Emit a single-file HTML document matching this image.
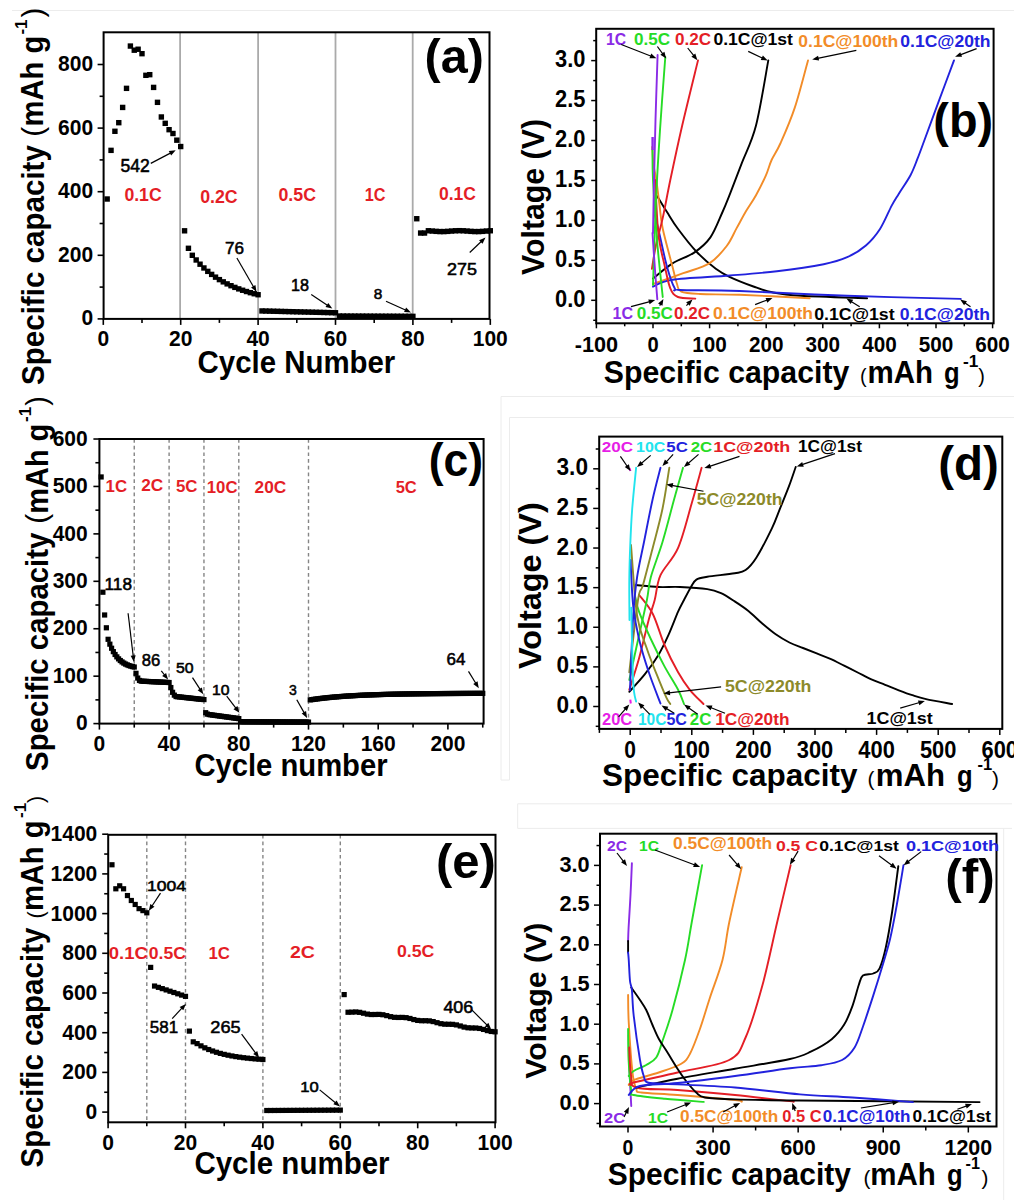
<!DOCTYPE html>
<html><head><meta charset="utf-8"><style>
html,body{margin:0;padding:0;background:#fff;overflow:hidden;}
svg{display:block;}
text{font-family:"Liberation Sans",sans-serif;}
</style></head><body>
<svg width="1024" height="1200" viewBox="0 0 1024 1200">
<defs><clipPath id="clipR"><rect x="0" y="0" width="1014" height="1200"/></clipPath></defs>
<rect width="1024" height="1200" fill="#fff"/>
<line x1="12.00" y1="10.50" x2="1014.00" y2="10.50" stroke="#ececec" stroke-width="1" />
<line x1="501.00" y1="396.50" x2="1014.00" y2="396.50" stroke="#ececec" stroke-width="1" />
<line x1="501.00" y1="396.50" x2="501.00" y2="780.00" stroke="#ececec" stroke-width="1" />
<line x1="509.50" y1="417.50" x2="1014.00" y2="417.50" stroke="#ececec" stroke-width="1" />
<line x1="509.50" y1="417.50" x2="509.50" y2="780.00" stroke="#ececec" stroke-width="1" />
<line x1="501.00" y1="780.00" x2="509.50" y2="780.00" stroke="#ececec" stroke-width="1" />
<line x1="517.70" y1="803.80" x2="1012.00" y2="803.80" stroke="#ececec" stroke-width="1" />
<line x1="517.70" y1="803.80" x2="517.70" y2="828.40" stroke="#ececec" stroke-width="1" />
<line x1="517.70" y1="828.40" x2="1012.00" y2="828.40" stroke="#ececec" stroke-width="1" />
<line x1="1003.70" y1="828.40" x2="1003.70" y2="1200.00" stroke="#ececec" stroke-width="1" />
<line x1="180.10" y1="32.30" x2="180.10" y2="318.90" stroke="#aaa" stroke-width="1.8" />
<line x1="258.10" y1="32.30" x2="258.10" y2="318.90" stroke="#aaa" stroke-width="1.8" />
<line x1="335.50" y1="32.30" x2="335.50" y2="318.90" stroke="#aaa" stroke-width="1.8" />
<line x1="412.70" y1="32.30" x2="412.70" y2="318.90" stroke="#aaa" stroke-width="1.8" />
<line x1="97.60" y1="318.90" x2="103.60" y2="318.90" stroke="#000" stroke-width="1.6" />
<line x1="99.60" y1="287.10" x2="103.60" y2="287.10" stroke="#000" stroke-width="1.6" />
<line x1="97.60" y1="255.30" x2="103.60" y2="255.30" stroke="#000" stroke-width="1.6" />
<line x1="99.60" y1="223.50" x2="103.60" y2="223.50" stroke="#000" stroke-width="1.6" />
<line x1="97.60" y1="191.70" x2="103.60" y2="191.70" stroke="#000" stroke-width="1.6" />
<line x1="99.60" y1="159.90" x2="103.60" y2="159.90" stroke="#000" stroke-width="1.6" />
<line x1="97.60" y1="128.10" x2="103.60" y2="128.10" stroke="#000" stroke-width="1.6" />
<line x1="99.60" y1="96.30" x2="103.60" y2="96.30" stroke="#000" stroke-width="1.6" />
<line x1="97.60" y1="64.50" x2="103.60" y2="64.50" stroke="#000" stroke-width="1.6" />
<line x1="103.30" y1="318.90" x2="103.30" y2="324.90" stroke="#000" stroke-width="1.6" />
<line x1="142.00" y1="318.90" x2="142.00" y2="322.90" stroke="#000" stroke-width="1.6" />
<line x1="180.70" y1="318.90" x2="180.70" y2="324.90" stroke="#000" stroke-width="1.6" />
<line x1="219.40" y1="318.90" x2="219.40" y2="322.90" stroke="#000" stroke-width="1.6" />
<line x1="258.10" y1="318.90" x2="258.10" y2="324.90" stroke="#000" stroke-width="1.6" />
<line x1="296.80" y1="318.90" x2="296.80" y2="322.90" stroke="#000" stroke-width="1.6" />
<line x1="335.50" y1="318.90" x2="335.50" y2="324.90" stroke="#000" stroke-width="1.6" />
<line x1="374.20" y1="318.90" x2="374.20" y2="322.90" stroke="#000" stroke-width="1.6" />
<line x1="412.90" y1="318.90" x2="412.90" y2="324.90" stroke="#000" stroke-width="1.6" />
<line x1="451.60" y1="318.90" x2="451.60" y2="322.90" stroke="#000" stroke-width="1.6" />
<line x1="490.30" y1="318.90" x2="490.30" y2="324.90" stroke="#000" stroke-width="1.6" />
<rect x="104.47" y="196.31" width="5.40" height="5.40" fill="#000" />
<rect x="108.34" y="147.66" width="5.40" height="5.40" fill="#000" />
<rect x="112.21" y="128.58" width="5.40" height="5.40" fill="#000" />
<rect x="116.08" y="119.99" width="5.40" height="5.40" fill="#000" />
<rect x="119.95" y="104.73" width="5.40" height="5.40" fill="#000" />
<rect x="123.82" y="85.65" width="5.40" height="5.40" fill="#000" />
<rect x="127.69" y="43.36" width="5.40" height="5.40" fill="#000" />
<rect x="131.56" y="47.49" width="5.40" height="5.40" fill="#000" />
<rect x="135.43" y="46.54" width="5.40" height="5.40" fill="#000" />
<rect x="139.30" y="50.99" width="5.40" height="5.40" fill="#000" />
<rect x="143.17" y="72.61" width="5.40" height="5.40" fill="#000" />
<rect x="147.04" y="71.98" width="5.40" height="5.40" fill="#000" />
<rect x="150.91" y="84.70" width="5.40" height="5.40" fill="#000" />
<rect x="154.78" y="99.64" width="5.40" height="5.40" fill="#000" />
<rect x="158.65" y="114.27" width="5.40" height="5.40" fill="#000" />
<rect x="162.52" y="120.63" width="5.40" height="5.40" fill="#000" />
<rect x="166.39" y="126.99" width="5.40" height="5.40" fill="#000" />
<rect x="170.26" y="130.81" width="5.40" height="5.40" fill="#000" />
<rect x="174.13" y="137.48" width="5.40" height="5.40" fill="#000" />
<rect x="178.00" y="143.84" width="5.40" height="5.40" fill="#000" />
<rect x="181.87" y="228.11" width="5.40" height="5.40" fill="#000" />
<rect x="185.74" y="245.60" width="5.40" height="5.40" fill="#000" />
<rect x="189.61" y="252.60" width="5.40" height="5.40" fill="#000" />
<rect x="193.48" y="257.29" width="5.40" height="5.40" fill="#000" />
<rect x="197.35" y="261.50" width="5.40" height="5.40" fill="#000" />
<rect x="201.22" y="265.27" width="5.40" height="5.40" fill="#000" />
<rect x="205.09" y="268.66" width="5.40" height="5.40" fill="#000" />
<rect x="208.96" y="271.70" width="5.40" height="5.40" fill="#000" />
<rect x="212.83" y="274.45" width="5.40" height="5.40" fill="#000" />
<rect x="216.70" y="276.92" width="5.40" height="5.40" fill="#000" />
<rect x="220.57" y="279.16" width="5.40" height="5.40" fill="#000" />
<rect x="224.44" y="281.18" width="5.40" height="5.40" fill="#000" />
<rect x="228.31" y="283.01" width="5.40" height="5.40" fill="#000" />
<rect x="232.18" y="284.68" width="5.40" height="5.40" fill="#000" />
<rect x="236.05" y="286.19" width="5.40" height="5.40" fill="#000" />
<rect x="239.92" y="287.57" width="5.40" height="5.40" fill="#000" />
<rect x="243.79" y="288.83" width="5.40" height="5.40" fill="#000" />
<rect x="247.66" y="289.99" width="5.40" height="5.40" fill="#000" />
<rect x="251.53" y="291.05" width="5.40" height="5.40" fill="#000" />
<rect x="255.40" y="292.03" width="5.40" height="5.40" fill="#000" />
<rect x="259.27" y="308.25" width="5.40" height="5.40" fill="#000" />
<rect x="263.14" y="308.35" width="5.40" height="5.40" fill="#000" />
<rect x="267.01" y="308.44" width="5.40" height="5.40" fill="#000" />
<rect x="270.88" y="308.54" width="5.40" height="5.40" fill="#000" />
<rect x="274.75" y="308.63" width="5.40" height="5.40" fill="#000" />
<rect x="278.62" y="308.73" width="5.40" height="5.40" fill="#000" />
<rect x="282.49" y="308.82" width="5.40" height="5.40" fill="#000" />
<rect x="286.36" y="308.92" width="5.40" height="5.40" fill="#000" />
<rect x="290.23" y="309.01" width="5.40" height="5.40" fill="#000" />
<rect x="294.10" y="309.11" width="5.40" height="5.40" fill="#000" />
<rect x="297.97" y="309.20" width="5.40" height="5.40" fill="#000" />
<rect x="301.84" y="309.30" width="5.40" height="5.40" fill="#000" />
<rect x="305.71" y="309.39" width="5.40" height="5.40" fill="#000" />
<rect x="309.58" y="309.49" width="5.40" height="5.40" fill="#000" />
<rect x="313.45" y="309.59" width="5.40" height="5.40" fill="#000" />
<rect x="317.32" y="309.68" width="5.40" height="5.40" fill="#000" />
<rect x="321.19" y="309.78" width="5.40" height="5.40" fill="#000" />
<rect x="325.06" y="309.87" width="5.40" height="5.40" fill="#000" />
<rect x="328.93" y="309.97" width="5.40" height="5.40" fill="#000" />
<rect x="332.80" y="310.06" width="5.40" height="5.40" fill="#000" />
<rect x="336.67" y="313.34" width="5.40" height="5.40" fill="#000" />
<rect x="340.54" y="313.35" width="5.40" height="5.40" fill="#000" />
<rect x="344.41" y="313.37" width="5.40" height="5.40" fill="#000" />
<rect x="348.28" y="313.39" width="5.40" height="5.40" fill="#000" />
<rect x="352.15" y="313.40" width="5.40" height="5.40" fill="#000" />
<rect x="356.02" y="313.42" width="5.40" height="5.40" fill="#000" />
<rect x="359.89" y="313.43" width="5.40" height="5.40" fill="#000" />
<rect x="363.76" y="313.45" width="5.40" height="5.40" fill="#000" />
<rect x="367.63" y="313.47" width="5.40" height="5.40" fill="#000" />
<rect x="371.50" y="313.48" width="5.40" height="5.40" fill="#000" />
<rect x="375.37" y="313.50" width="5.40" height="5.40" fill="#000" />
<rect x="379.24" y="313.51" width="5.40" height="5.40" fill="#000" />
<rect x="383.11" y="313.53" width="5.40" height="5.40" fill="#000" />
<rect x="386.98" y="313.54" width="5.40" height="5.40" fill="#000" />
<rect x="390.85" y="313.56" width="5.40" height="5.40" fill="#000" />
<rect x="394.72" y="313.58" width="5.40" height="5.40" fill="#000" />
<rect x="398.59" y="313.59" width="5.40" height="5.40" fill="#000" />
<rect x="402.46" y="313.61" width="5.40" height="5.40" fill="#000" />
<rect x="406.33" y="313.62" width="5.40" height="5.40" fill="#000" />
<rect x="410.20" y="313.64" width="5.40" height="5.40" fill="#000" />
<rect x="414.07" y="216.03" width="5.40" height="5.40" fill="#000" />
<rect x="417.94" y="230.34" width="5.40" height="5.40" fill="#000" />
<rect x="421.81" y="230.34" width="5.40" height="5.40" fill="#000" />
<rect x="425.68" y="228.06" width="5.40" height="5.40" fill="#000" />
<rect x="429.55" y="228.34" width="5.40" height="5.40" fill="#000" />
<rect x="433.42" y="228.66" width="5.40" height="5.40" fill="#000" />
<rect x="437.29" y="228.88" width="5.40" height="5.40" fill="#000" />
<rect x="441.16" y="228.88" width="5.40" height="5.40" fill="#000" />
<rect x="445.03" y="228.67" width="5.40" height="5.40" fill="#000" />
<rect x="448.90" y="228.35" width="5.40" height="5.40" fill="#000" />
<rect x="452.77" y="228.07" width="5.40" height="5.40" fill="#000" />
<rect x="456.64" y="227.96" width="5.40" height="5.40" fill="#000" />
<rect x="460.51" y="228.07" width="5.40" height="5.40" fill="#000" />
<rect x="464.38" y="228.35" width="5.40" height="5.40" fill="#000" />
<rect x="468.25" y="228.67" width="5.40" height="5.40" fill="#000" />
<rect x="472.12" y="228.88" width="5.40" height="5.40" fill="#000" />
<rect x="475.99" y="228.88" width="5.40" height="5.40" fill="#000" />
<rect x="479.86" y="228.67" width="5.40" height="5.40" fill="#000" />
<rect x="483.73" y="228.34" width="5.40" height="5.40" fill="#000" />
<rect x="487.60" y="228.06" width="5.40" height="5.40" fill="#000" />
<rect x="103.60" y="32.30" width="385.90" height="286.60" fill="none" stroke="#000" stroke-width="2"/>
<text x="93.10" y="325.40" font-size="22.47" fill="#000" font-weight="bold" text-anchor="end" textLength="11.68" lengthAdjust="spacingAndGlyphs" >0</text>
<text x="93.10" y="261.80" font-size="22.47" fill="#000" font-weight="bold" text-anchor="end" textLength="35.04" lengthAdjust="spacingAndGlyphs" >200</text>
<text x="93.10" y="198.20" font-size="22.47" fill="#000" font-weight="bold" text-anchor="end" textLength="35.04" lengthAdjust="spacingAndGlyphs" >400</text>
<text x="93.10" y="134.60" font-size="22.47" fill="#000" font-weight="bold" text-anchor="end" textLength="35.04" lengthAdjust="spacingAndGlyphs" >600</text>
<text x="93.10" y="71.00" font-size="22.47" fill="#000" font-weight="bold" text-anchor="end" textLength="35.04" lengthAdjust="spacingAndGlyphs" >800</text>
<text x="103.30" y="345.50" font-size="22.47" fill="#000" font-weight="bold" text-anchor="middle" textLength="11.68" lengthAdjust="spacingAndGlyphs" >0</text>
<text x="180.70" y="345.50" font-size="22.47" fill="#000" font-weight="bold" text-anchor="middle" textLength="23.36" lengthAdjust="spacingAndGlyphs" >20</text>
<text x="258.10" y="345.50" font-size="22.47" fill="#000" font-weight="bold" text-anchor="middle" textLength="23.36" lengthAdjust="spacingAndGlyphs" >40</text>
<text x="335.50" y="345.50" font-size="22.47" fill="#000" font-weight="bold" text-anchor="middle" textLength="23.36" lengthAdjust="spacingAndGlyphs" >60</text>
<text x="412.90" y="345.50" font-size="22.47" fill="#000" font-weight="bold" text-anchor="middle" textLength="23.36" lengthAdjust="spacingAndGlyphs" >80</text>
<text x="490.30" y="345.50" font-size="22.47" fill="#000" font-weight="bold" text-anchor="middle" textLength="35.04" lengthAdjust="spacingAndGlyphs" >100</text>
<text x="197.60" y="373.30" font-size="31.50" fill="#000" font-weight="bold" textLength="197.70" lengthAdjust="spacingAndGlyphs" >Cycle Number</text>
<text x="43.50" y="385.00" font-size="31.50" fill="#000" font-weight="bold" textLength="239.90" lengthAdjust="spacingAndGlyphs" transform="rotate(-90 43.50 385.00)" >Specific capacity</text>
<text x="43.50" y="136.70" font-size="30.00" fill="#000" transform="rotate(-90 43.50 136.70)" >(</text>
<text x="43.50" y="126.40" font-size="30.50" fill="#000" font-weight="bold" textLength="90.60" lengthAdjust="spacingAndGlyphs" transform="rotate(-90 43.50 126.40)" >mAh g</text>
<text x="26.80" y="34.60" font-size="17.00" fill="#000" font-weight="bold" transform="rotate(-90 26.80 34.60)" >-1</text>
<text x="43.30" y="17.50" font-size="29.40" fill="#000" transform="rotate(-90 43.30 17.50)" >)</text>
<text x="424.60" y="72.60" font-size="48.50" fill="#000" font-weight="bold" >(a)</text>
<text x="124.40" y="201.30" font-size="18.44" fill="#e41e26" font-weight="bold" textLength="37.30" lengthAdjust="spacingAndGlyphs" >0.1C</text>
<text x="200.20" y="203.40" font-size="18.44" fill="#e41e26" font-weight="bold" textLength="37.50" lengthAdjust="spacingAndGlyphs" >0.2C</text>
<text x="278.50" y="201.30" font-size="18.44" fill="#e41e26" font-weight="bold" textLength="37.50" lengthAdjust="spacingAndGlyphs" >0.5C</text>
<text x="364.70" y="201.30" font-size="18.44" fill="#e41e26" font-weight="bold" textLength="20.80" lengthAdjust="spacingAndGlyphs" >1C</text>
<text x="439.00" y="199.50" font-size="18.44" fill="#e41e26" font-weight="bold" textLength="37.00" lengthAdjust="spacingAndGlyphs" >0.1C</text>
<text x="120.50" y="171.70" font-size="17.74" fill="#000" textLength="29.30" lengthAdjust="spacingAndGlyphs" stroke="#000" stroke-width="0.55">542</text>
<line x1="150.80" y1="163.40" x2="170.83" y2="152.86" stroke="#000" stroke-width="1.2" />
<polygon points="175.70,150.30 171.11,155.54 168.78,151.11" fill="#000"/>
<text x="225.00" y="254.20" font-size="16.34" fill="#000" textLength="19.00" lengthAdjust="spacingAndGlyphs" stroke="#000" stroke-width="0.55">76</text>
<line x1="236.90" y1="258.00" x2="253.75" y2="287.24" stroke="#000" stroke-width="1.2" />
<polygon points="256.50,292.00 251.09,287.62 255.42,285.12" fill="#000"/>
<text x="291.00" y="291.00" font-size="16.06" fill="#000" textLength="18.00" lengthAdjust="spacingAndGlyphs" stroke="#000" stroke-width="0.55">18</text>
<line x1="311.25" y1="294.50" x2="327.73" y2="305.54" stroke="#000" stroke-width="1.2" />
<polygon points="332.30,308.60 325.51,307.06 328.29,302.91" fill="#000"/>
<text x="373.75" y="299.40" font-size="15.08" fill="#000" textLength="8.55" lengthAdjust="spacingAndGlyphs" stroke="#000" stroke-width="0.55">8</text>
<line x1="386.00" y1="301.25" x2="405.98" y2="310.24" stroke="#000" stroke-width="1.2" />
<polygon points="411.00,312.50 404.05,312.11 406.10,307.55" fill="#000"/>
<text x="447.00" y="275.00" font-size="16.76" fill="#000" textLength="30.00" lengthAdjust="spacingAndGlyphs" stroke="#000" stroke-width="0.55">275</text>
<line x1="469.75" y1="252.50" x2="481.52" y2="241.29" stroke="#000" stroke-width="1.2" />
<polygon points="485.50,237.50 482.52,243.79 479.07,240.17" fill="#000"/>
<line x1="593.20" y1="320.28" x2="596.20" y2="320.28" stroke="#000" stroke-width="1.5" />
<line x1="591.20" y1="300.30" x2="596.20" y2="300.30" stroke="#000" stroke-width="1.5" />
<line x1="593.20" y1="280.32" x2="596.20" y2="280.32" stroke="#000" stroke-width="1.5" />
<line x1="591.20" y1="260.35" x2="596.20" y2="260.35" stroke="#000" stroke-width="1.5" />
<line x1="593.20" y1="240.38" x2="596.20" y2="240.38" stroke="#000" stroke-width="1.5" />
<line x1="591.20" y1="220.40" x2="596.20" y2="220.40" stroke="#000" stroke-width="1.5" />
<line x1="593.20" y1="200.43" x2="596.20" y2="200.43" stroke="#000" stroke-width="1.5" />
<line x1="591.20" y1="180.45" x2="596.20" y2="180.45" stroke="#000" stroke-width="1.5" />
<line x1="593.20" y1="160.47" x2="596.20" y2="160.47" stroke="#000" stroke-width="1.5" />
<line x1="591.20" y1="140.50" x2="596.20" y2="140.50" stroke="#000" stroke-width="1.5" />
<line x1="593.20" y1="120.53" x2="596.20" y2="120.53" stroke="#000" stroke-width="1.5" />
<line x1="591.20" y1="100.55" x2="596.20" y2="100.55" stroke="#000" stroke-width="1.5" />
<line x1="593.20" y1="80.57" x2="596.20" y2="80.57" stroke="#000" stroke-width="1.5" />
<line x1="591.20" y1="60.60" x2="596.20" y2="60.60" stroke="#000" stroke-width="1.5" />
<line x1="593.20" y1="40.62" x2="596.20" y2="40.62" stroke="#000" stroke-width="1.5" />
<line x1="596.40" y1="323.30" x2="596.40" y2="328.30" stroke="#000" stroke-width="1.5" />
<line x1="624.70" y1="323.30" x2="624.70" y2="326.30" stroke="#000" stroke-width="1.5" />
<line x1="653.00" y1="323.30" x2="653.00" y2="328.30" stroke="#000" stroke-width="1.5" />
<line x1="681.30" y1="323.30" x2="681.30" y2="326.30" stroke="#000" stroke-width="1.5" />
<line x1="709.60" y1="323.30" x2="709.60" y2="328.30" stroke="#000" stroke-width="1.5" />
<line x1="737.90" y1="323.30" x2="737.90" y2="326.30" stroke="#000" stroke-width="1.5" />
<line x1="766.20" y1="323.30" x2="766.20" y2="328.30" stroke="#000" stroke-width="1.5" />
<line x1="794.50" y1="323.30" x2="794.50" y2="326.30" stroke="#000" stroke-width="1.5" />
<line x1="822.80" y1="323.30" x2="822.80" y2="328.30" stroke="#000" stroke-width="1.5" />
<line x1="851.10" y1="323.30" x2="851.10" y2="326.30" stroke="#000" stroke-width="1.5" />
<line x1="879.40" y1="323.30" x2="879.40" y2="328.30" stroke="#000" stroke-width="1.5" />
<line x1="907.70" y1="323.30" x2="907.70" y2="326.30" stroke="#000" stroke-width="1.5" />
<line x1="936.00" y1="323.30" x2="936.00" y2="328.30" stroke="#000" stroke-width="1.5" />
<line x1="964.30" y1="323.30" x2="964.30" y2="326.30" stroke="#000" stroke-width="1.5" />
<line x1="992.60" y1="323.30" x2="992.60" y2="328.30" stroke="#000" stroke-width="1.5" />
<path d="M657.30,196.30 C658.92,198.92 663.57,206.58 667.00,212.00 C670.43,217.42 673.02,222.22 677.90,228.80 C682.78,235.38 689.98,244.83 696.30,251.50 C702.62,258.17 710.18,264.53 715.80,268.80 C721.42,273.07 723.73,274.15 730.00,277.10 C736.27,280.05 746.37,283.97 753.40,286.50 C760.43,289.03 764.38,290.75 772.20,292.30 C780.02,293.85 784.48,294.82 800.30,295.80 C816.12,296.78 855.97,297.80 867.10,298.20" fill="none" stroke="#000" stroke-width="1.9" stroke-linejoin="round" stroke-linecap="round" />
<path d="M653.00,278.60 C656.25,276.07 665.63,267.73 672.50,263.40 C679.37,259.07 687.88,256.93 694.20,252.60 C700.52,248.27 705.72,244.08 710.40,237.40 C715.08,230.72 719.03,219.75 722.30,212.50 C725.57,205.25 726.77,202.08 730.00,193.90 C733.23,185.72 737.37,174.80 741.70,163.40 C746.03,152.00 751.57,142.67 756.00,125.50 C760.43,108.33 766.25,71.25 768.30,60.40" fill="none" stroke="#000" stroke-width="1.9" stroke-linejoin="round" stroke-linecap="round" />
<path d="M652.20,147.00 C652.43,150.00 652.92,159.50 653.60,165.00 C654.28,170.50 655.32,173.33 656.30,180.00 C657.28,186.67 658.42,196.87 659.50,205.00 C660.58,213.13 660.58,218.52 662.75,228.80 C664.92,239.08 670.12,257.50 672.50,266.70 C674.88,275.90 675.55,279.85 677.00,284.00 C678.45,288.15 677.37,289.93 681.20,291.60 C685.03,293.27 690.25,293.47 700.00,294.00 C709.75,294.53 721.42,294.10 739.70,294.80 C757.98,295.50 798.03,297.63 809.70,298.20" fill="none" stroke="#f28c28" stroke-width="1.9" stroke-linejoin="round" stroke-linecap="round" />
<path d="M653.00,284.00 C658.05,282.20 673.92,276.63 683.30,273.20 C692.68,269.77 702.07,267.93 709.30,263.40 C716.53,258.87 722.17,251.83 726.70,246.00 C731.23,240.17 733.24,234.27 736.50,228.40 C739.76,222.53 743.00,216.33 746.25,210.80 C749.50,205.27 752.74,201.07 756.00,195.20 C759.26,189.33 763.20,181.47 765.80,175.60 C768.40,169.73 769.13,165.43 771.60,160.00 C774.07,154.57 776.75,151.68 780.60,143.00 C784.45,134.32 790.13,121.67 794.70,107.90 C799.27,94.13 805.78,68.32 808.00,60.40" fill="none" stroke="#f28c28" stroke-width="1.9" stroke-linejoin="round" stroke-linecap="round" />
<path d="M653.00,286.70 C656.25,285.53 659.67,281.57 672.50,279.70 C685.33,277.83 712.60,276.92 730.00,275.50 C747.40,274.08 761.28,273.08 776.90,271.20 C792.52,269.32 811.98,266.53 823.70,264.20 C835.42,261.87 840.17,260.32 847.20,257.20 C854.23,254.08 860.43,250.20 865.90,245.50 C871.37,240.80 875.70,235.65 880.00,229.00 C884.30,222.35 888.58,211.45 891.70,205.60 C894.82,199.75 895.57,198.97 898.70,193.90 C901.83,188.83 907.37,181.07 910.50,175.20 C913.63,169.33 915.17,164.57 917.50,158.70 C919.83,152.83 920.93,149.63 924.50,140.00 C928.07,130.37 933.98,114.17 938.90,100.90 C943.82,87.63 951.48,67.15 954.00,60.40" fill="none" stroke="#2222dd" stroke-width="1.9" stroke-linejoin="round" stroke-linecap="round" />
<path d="M655.00,215.00 C655.67,217.83 657.00,223.38 659.00,232.00 C661.00,240.62 664.38,257.32 667.00,266.70 C669.62,276.08 672.53,284.42 674.70,288.30 C676.87,292.18 669.17,289.55 680.00,290.00 C690.83,290.45 711.83,290.03 739.70,291.00 C767.57,291.97 810.35,294.48 847.20,295.80 C884.05,297.12 941.87,298.38 960.80,298.90" fill="none" stroke="#2222dd" stroke-width="1.9" stroke-linejoin="round" stroke-linecap="round" />
<path d="M655.20,180.00 C655.73,189.03 656.78,219.75 658.40,234.20 C660.02,248.65 662.92,257.68 664.90,266.70 C666.88,275.72 668.13,283.25 670.30,288.30 C672.47,293.35 673.73,295.28 677.90,297.00 C682.07,298.72 692.40,298.33 695.30,298.60" fill="none" stroke="#e41e26" stroke-width="1.9" stroke-linejoin="round" stroke-linecap="round" />
<path d="M651.90,268.80 C652.58,264.83 654.19,253.48 656.00,245.00 C657.81,236.52 660.37,228.73 662.75,217.90 C665.13,207.07 667.06,195.40 670.30,180.00 C673.54,164.60 677.58,145.43 682.20,125.50 C686.82,105.57 695.37,71.25 698.00,60.40" fill="none" stroke="#e41e26" stroke-width="1.9" stroke-linejoin="round" stroke-linecap="round" />
<path d="M652.50,150.00 C652.58,155.00 652.25,165.00 653.00,180.00 C653.75,195.00 655.38,220.50 657.00,240.00 C658.62,259.50 661.79,287.50 662.75,297.00" fill="none" stroke="#26dc26" stroke-width="1.9" stroke-linejoin="round" stroke-linecap="round" />
<path d="M653.00,285.00 C653.50,270.83 654.83,225.83 656.00,200.00 C657.17,174.17 658.45,153.83 660.00,130.00 C661.55,106.17 664.42,69.17 665.30,57.00" fill="none" stroke="#26dc26" stroke-width="1.9" stroke-linejoin="round" stroke-linecap="round" />
<path d="M652.50,233.00 C652.92,239.17 654.20,258.97 655.00,270.00 C655.80,281.03 656.92,294.33 657.30,299.20" fill="none" stroke="#8a2be6" stroke-width="1.9" stroke-linejoin="round" stroke-linecap="round" />
<path d="M653.00,233.00 C653.17,224.17 653.58,198.83 654.00,180.00 C654.42,161.17 654.90,140.83 655.50,120.00 C656.10,99.17 657.25,65.83 657.60,55.00" fill="none" stroke="#8a2be6" stroke-width="1.9" stroke-linejoin="round" stroke-linecap="round" />
<line x1="652.60" y1="137.00" x2="652.60" y2="150.00" stroke="#8a2be6" stroke-width="2.4" />
<rect x="596.20" y="28.80" width="397.40" height="294.50" fill="none" stroke="#000" stroke-width="2"/>
<text x="585.40" y="306.70" font-size="23.01" fill="#000" font-weight="bold" text-anchor="end" textLength="30.40" lengthAdjust="spacingAndGlyphs" >0.0</text>
<text x="585.40" y="266.75" font-size="23.01" fill="#000" font-weight="bold" text-anchor="end" textLength="30.40" lengthAdjust="spacingAndGlyphs" >0.5</text>
<text x="585.40" y="226.80" font-size="23.01" fill="#000" font-weight="bold" text-anchor="end" textLength="30.40" lengthAdjust="spacingAndGlyphs" >1.0</text>
<text x="585.40" y="186.85" font-size="23.01" fill="#000" font-weight="bold" text-anchor="end" textLength="30.40" lengthAdjust="spacingAndGlyphs" >1.5</text>
<text x="585.40" y="146.90" font-size="23.01" fill="#000" font-weight="bold" text-anchor="end" textLength="30.40" lengthAdjust="spacingAndGlyphs" >2.0</text>
<text x="585.40" y="106.95" font-size="23.01" fill="#000" font-weight="bold" text-anchor="end" textLength="30.40" lengthAdjust="spacingAndGlyphs" >2.5</text>
<text x="585.40" y="67.00" font-size="23.01" fill="#000" font-weight="bold" text-anchor="end" textLength="30.40" lengthAdjust="spacingAndGlyphs" >3.0</text>
<text x="596.40" y="351.50" font-size="22.26" fill="#000" font-weight="bold" text-anchor="middle" textLength="43.40" lengthAdjust="spacingAndGlyphs" >-100</text>
<text x="653.00" y="351.50" font-size="22.26" fill="#000" font-weight="bold" text-anchor="middle" textLength="11.20" lengthAdjust="spacingAndGlyphs" >0</text>
<text x="709.60" y="351.50" font-size="22.26" fill="#000" font-weight="bold" text-anchor="middle" textLength="34.50" lengthAdjust="spacingAndGlyphs" >100</text>
<text x="766.20" y="351.50" font-size="22.26" fill="#000" font-weight="bold" text-anchor="middle" textLength="34.50" lengthAdjust="spacingAndGlyphs" >200</text>
<text x="822.80" y="351.50" font-size="22.26" fill="#000" font-weight="bold" text-anchor="middle" textLength="34.50" lengthAdjust="spacingAndGlyphs" >300</text>
<text x="879.40" y="351.50" font-size="22.26" fill="#000" font-weight="bold" text-anchor="middle" textLength="34.50" lengthAdjust="spacingAndGlyphs" >400</text>
<text x="936.00" y="351.50" font-size="22.26" fill="#000" font-weight="bold" text-anchor="middle" textLength="34.50" lengthAdjust="spacingAndGlyphs" >500</text>
<text x="992.60" y="351.50" font-size="22.26" fill="#000" font-weight="bold" text-anchor="middle" textLength="34.50" lengthAdjust="spacingAndGlyphs" >600</text>
<text x="543.50" y="275.00" font-size="30.50" fill="#000" font-weight="bold" textLength="156.00" lengthAdjust="spacingAndGlyphs" transform="rotate(-90 543.50 275.00)" >Voltage (V)</text>
<text x="603.80" y="383.40" font-size="31.50" fill="#000" font-weight="bold" textLength="245.50" lengthAdjust="spacingAndGlyphs" >Specific capacity</text>
<text x="860.00" y="383.40" font-size="19.80" fill="#000" >(</text>
<text x="867.50" y="383.40" font-size="31.00" fill="#000" font-weight="bold" textLength="65.50" lengthAdjust="spacingAndGlyphs" >mAh</text>
<text x="944.10" y="383.40" font-size="30.00" fill="#000" font-weight="bold" textLength="15.60" lengthAdjust="spacingAndGlyphs" >g</text>
<text x="962.90" y="366.70" font-size="17.30" fill="#000" font-weight="bold" >-1</text>
<text x="978.30" y="383.40" font-size="19.80" fill="#000" >)</text>
<text x="933.30" y="137.20" font-size="48.50" fill="#000" font-weight="bold" textLength="59.80" lengthAdjust="spacingAndGlyphs" >(b)</text>
<text x="606.00" y="45.10" font-size="15.78" fill="#8a2be6" font-weight="bold" textLength="20.10" lengthAdjust="spacingAndGlyphs" >1C</text>
<text x="634.00" y="45.10" font-size="15.78" fill="#26dc26" font-weight="bold" textLength="36.10" lengthAdjust="spacingAndGlyphs" >0.5C</text>
<text x="675.00" y="45.10" font-size="15.78" fill="#e41e26" font-weight="bold" textLength="36.10" lengthAdjust="spacingAndGlyphs" >0.2C</text>
<text x="713.40" y="45.10" font-size="15.78" fill="#000" font-weight="bold" textLength="79.50" lengthAdjust="spacingAndGlyphs" >0.1C@1st</text>
<text x="798.30" y="47.10" font-size="15.92" fill="#f28c28" font-weight="bold" textLength="99.90" lengthAdjust="spacingAndGlyphs" >0.1C@100th</text>
<text x="900.30" y="47.10" font-size="15.92" fill="#2222dd" font-weight="bold" textLength="90.20" lengthAdjust="spacingAndGlyphs" >0.1C@20th</text>
<line x1="621.25" y1="44.50" x2="651.28" y2="56.20" stroke="#000" stroke-width="1.2" />
<polygon points="656.40,58.20 649.44,58.17 651.25,53.51" fill="#000"/>
<line x1="657.40" y1="46.50" x2="662.97" y2="54.15" stroke="#000" stroke-width="1.2" />
<polygon points="666.20,58.60 660.36,54.81 664.40,51.87" fill="#000"/>
<line x1="687.70" y1="48.00" x2="693.98" y2="55.89" stroke="#000" stroke-width="1.2" />
<polygon points="697.40,60.20 691.40,56.67 695.31,53.56" fill="#000"/>
<line x1="748.20" y1="51.40" x2="762.72" y2="58.17" stroke="#000" stroke-width="1.2" />
<polygon points="767.70,60.50 760.75,60.02 762.87,55.49" fill="#000"/>
<line x1="856.30" y1="50.40" x2="817.59" y2="58.30" stroke="#000" stroke-width="1.2" />
<polygon points="812.20,59.40 818.07,55.65 819.07,60.55" fill="#000"/>
<line x1="976.60" y1="48.60" x2="960.24" y2="54.84" stroke="#000" stroke-width="1.2" />
<polygon points="955.10,56.80 960.28,52.15 962.06,56.82" fill="#000"/>
<text x="612.60" y="319.40" font-size="16.34" fill="#8a2be6" font-weight="bold" textLength="20.50" lengthAdjust="spacingAndGlyphs" >1C</text>
<text x="636.80" y="319.40" font-size="16.34" fill="#26dc26" font-weight="bold" textLength="36.20" lengthAdjust="spacingAndGlyphs" >0.5C</text>
<text x="674.00" y="319.40" font-size="16.34" fill="#e41e26" font-weight="bold" textLength="36.00" lengthAdjust="spacingAndGlyphs" >0.2C</text>
<text x="713.00" y="319.40" font-size="16.34" fill="#f28c28" font-weight="bold" textLength="100.00" lengthAdjust="spacingAndGlyphs" >0.1C@100th</text>
<text x="814.20" y="320.00" font-size="15.78" fill="#000" font-weight="bold" textLength="80.40" lengthAdjust="spacingAndGlyphs" >0.1C@1st</text>
<text x="899.70" y="320.00" font-size="15.78" fill="#2222dd" font-weight="bold" textLength="90.30" lengthAdjust="spacingAndGlyphs" >0.1C@20th</text>
<line x1="631.00" y1="306.70" x2="649.89" y2="301.55" stroke="#000" stroke-width="1.2" />
<polygon points="655.20,300.10 649.59,304.22 648.27,299.40" fill="#000"/>
<line x1="659.70" y1="305.60" x2="660.74" y2="303.71" stroke="#000" stroke-width="1.2" />
<polygon points="663.40,298.90 662.45,305.80 658.07,303.38" fill="#000"/>
<line x1="686.40" y1="305.60" x2="688.61" y2="303.39" stroke="#000" stroke-width="1.2" />
<polygon points="692.50,299.50 689.67,305.86 686.14,302.33" fill="#000"/>
<line x1="755.10" y1="304.60" x2="767.36" y2="299.95" stroke="#000" stroke-width="1.2" />
<polygon points="772.50,298.00 767.31,302.64 765.54,297.97" fill="#000"/>
<line x1="859.70" y1="306.70" x2="851.08" y2="301.39" stroke="#000" stroke-width="1.2" />
<polygon points="846.40,298.50 853.24,299.78 850.62,304.04" fill="#000"/>
<line x1="970.50" y1="306.70" x2="964.71" y2="302.65" stroke="#000" stroke-width="1.2" />
<polygon points="960.20,299.50 966.96,301.18 964.10,305.27" fill="#000"/>
<line x1="134.25" y1="439.00" x2="134.25" y2="723.60" stroke="#858585" stroke-width="1.4" stroke-dasharray="3.7,3"/>
<line x1="169.10" y1="439.00" x2="169.10" y2="723.60" stroke="#858585" stroke-width="1.4" stroke-dasharray="3.7,3"/>
<line x1="203.95" y1="439.00" x2="203.95" y2="723.60" stroke="#858585" stroke-width="1.4" stroke-dasharray="3.7,3"/>
<line x1="238.80" y1="439.00" x2="238.80" y2="723.60" stroke="#858585" stroke-width="1.4" stroke-dasharray="3.7,3"/>
<line x1="308.50" y1="439.00" x2="308.50" y2="723.60" stroke="#858585" stroke-width="1.4" stroke-dasharray="3.7,3"/>
<line x1="93.40" y1="723.60" x2="99.40" y2="723.60" stroke="#000" stroke-width="1.6" />
<line x1="95.40" y1="699.88" x2="99.40" y2="699.88" stroke="#000" stroke-width="1.6" />
<line x1="93.40" y1="676.17" x2="99.40" y2="676.17" stroke="#000" stroke-width="1.6" />
<line x1="95.40" y1="652.46" x2="99.40" y2="652.46" stroke="#000" stroke-width="1.6" />
<line x1="93.40" y1="628.74" x2="99.40" y2="628.74" stroke="#000" stroke-width="1.6" />
<line x1="95.40" y1="605.02" x2="99.40" y2="605.02" stroke="#000" stroke-width="1.6" />
<line x1="93.40" y1="581.31" x2="99.40" y2="581.31" stroke="#000" stroke-width="1.6" />
<line x1="95.40" y1="557.60" x2="99.40" y2="557.60" stroke="#000" stroke-width="1.6" />
<line x1="93.40" y1="533.88" x2="99.40" y2="533.88" stroke="#000" stroke-width="1.6" />
<line x1="95.40" y1="510.17" x2="99.40" y2="510.17" stroke="#000" stroke-width="1.6" />
<line x1="93.40" y1="486.45" x2="99.40" y2="486.45" stroke="#000" stroke-width="1.6" />
<line x1="95.40" y1="462.74" x2="99.40" y2="462.74" stroke="#000" stroke-width="1.6" />
<line x1="93.40" y1="439.02" x2="99.40" y2="439.02" stroke="#000" stroke-width="1.6" />
<line x1="99.40" y1="723.60" x2="99.40" y2="729.60" stroke="#000" stroke-width="1.6" />
<line x1="134.25" y1="723.60" x2="134.25" y2="727.60" stroke="#000" stroke-width="1.6" />
<line x1="169.10" y1="723.60" x2="169.10" y2="729.60" stroke="#000" stroke-width="1.6" />
<line x1="203.95" y1="723.60" x2="203.95" y2="727.60" stroke="#000" stroke-width="1.6" />
<line x1="238.80" y1="723.60" x2="238.80" y2="729.60" stroke="#000" stroke-width="1.6" />
<line x1="273.65" y1="723.60" x2="273.65" y2="727.60" stroke="#000" stroke-width="1.6" />
<line x1="308.50" y1="723.60" x2="308.50" y2="729.60" stroke="#000" stroke-width="1.6" />
<line x1="343.35" y1="723.60" x2="343.35" y2="727.60" stroke="#000" stroke-width="1.6" />
<line x1="378.20" y1="723.60" x2="378.20" y2="729.60" stroke="#000" stroke-width="1.6" />
<line x1="413.05" y1="723.60" x2="413.05" y2="727.60" stroke="#000" stroke-width="1.6" />
<line x1="447.90" y1="723.60" x2="447.90" y2="729.60" stroke="#000" stroke-width="1.6" />
<line x1="482.75" y1="723.60" x2="482.75" y2="727.60" stroke="#000" stroke-width="1.6" />
<rect x="98.54" y="474.36" width="5.20" height="5.20" fill="#000" />
<rect x="100.29" y="589.62" width="5.20" height="5.20" fill="#000" />
<rect x="102.03" y="612.39" width="5.20" height="5.20" fill="#000" />
<rect x="103.77" y="625.19" width="5.20" height="5.20" fill="#000" />
<rect x="105.51" y="636.70" width="5.20" height="5.20" fill="#000" />
<rect x="107.26" y="641.57" width="5.20" height="5.20" fill="#000" />
<rect x="109.00" y="645.64" width="5.20" height="5.20" fill="#000" />
<rect x="110.74" y="649.04" width="5.20" height="5.20" fill="#000" />
<rect x="112.48" y="651.89" width="5.20" height="5.20" fill="#000" />
<rect x="114.23" y="654.27" width="5.20" height="5.20" fill="#000" />
<rect x="115.97" y="656.26" width="5.20" height="5.20" fill="#000" />
<rect x="117.71" y="657.93" width="5.20" height="5.20" fill="#000" />
<rect x="119.45" y="659.32" width="5.20" height="5.20" fill="#000" />
<rect x="121.20" y="660.49" width="5.20" height="5.20" fill="#000" />
<rect x="122.94" y="661.47" width="5.20" height="5.20" fill="#000" />
<rect x="124.68" y="662.28" width="5.20" height="5.20" fill="#000" />
<rect x="126.42" y="662.96" width="5.20" height="5.20" fill="#000" />
<rect x="128.17" y="663.54" width="5.20" height="5.20" fill="#000" />
<rect x="129.91" y="664.01" width="5.20" height="5.20" fill="#000" />
<rect x="131.65" y="664.41" width="5.20" height="5.20" fill="#000" />
<rect x="133.39" y="670.72" width="5.20" height="5.20" fill="#000" />
<rect x="135.14" y="675.47" width="5.20" height="5.20" fill="#000" />
<rect x="136.88" y="677.84" width="5.20" height="5.20" fill="#000" />
<rect x="138.62" y="678.55" width="5.20" height="5.20" fill="#000" />
<rect x="140.36" y="678.64" width="5.20" height="5.20" fill="#000" />
<rect x="142.11" y="678.72" width="5.20" height="5.20" fill="#000" />
<rect x="143.85" y="678.81" width="5.20" height="5.20" fill="#000" />
<rect x="145.59" y="678.89" width="5.20" height="5.20" fill="#000" />
<rect x="147.33" y="678.98" width="5.20" height="5.20" fill="#000" />
<rect x="149.08" y="679.06" width="5.20" height="5.20" fill="#000" />
<rect x="150.82" y="679.15" width="5.20" height="5.20" fill="#000" />
<rect x="152.56" y="679.23" width="5.20" height="5.20" fill="#000" />
<rect x="154.30" y="679.32" width="5.20" height="5.20" fill="#000" />
<rect x="156.05" y="679.40" width="5.20" height="5.20" fill="#000" />
<rect x="157.79" y="679.49" width="5.20" height="5.20" fill="#000" />
<rect x="159.53" y="679.57" width="5.20" height="5.20" fill="#000" />
<rect x="161.27" y="679.66" width="5.20" height="5.20" fill="#000" />
<rect x="163.02" y="679.75" width="5.20" height="5.20" fill="#000" />
<rect x="164.76" y="679.83" width="5.20" height="5.20" fill="#000" />
<rect x="166.50" y="679.92" width="5.20" height="5.20" fill="#000" />
<rect x="168.24" y="684.95" width="5.20" height="5.20" fill="#000" />
<rect x="169.99" y="689.70" width="5.20" height="5.20" fill="#000" />
<rect x="171.73" y="692.54" width="5.20" height="5.20" fill="#000" />
<rect x="173.47" y="693.96" width="5.20" height="5.20" fill="#000" />
<rect x="175.21" y="694.15" width="5.20" height="5.20" fill="#000" />
<rect x="176.96" y="694.34" width="5.20" height="5.20" fill="#000" />
<rect x="178.70" y="694.53" width="5.20" height="5.20" fill="#000" />
<rect x="180.44" y="694.72" width="5.20" height="5.20" fill="#000" />
<rect x="182.18" y="694.91" width="5.20" height="5.20" fill="#000" />
<rect x="183.93" y="695.10" width="5.20" height="5.20" fill="#000" />
<rect x="185.67" y="695.29" width="5.20" height="5.20" fill="#000" />
<rect x="187.41" y="695.48" width="5.20" height="5.20" fill="#000" />
<rect x="189.15" y="695.67" width="5.20" height="5.20" fill="#000" />
<rect x="190.90" y="695.86" width="5.20" height="5.20" fill="#000" />
<rect x="192.64" y="696.05" width="5.20" height="5.20" fill="#000" />
<rect x="194.38" y="696.24" width="5.20" height="5.20" fill="#000" />
<rect x="196.12" y="696.43" width="5.20" height="5.20" fill="#000" />
<rect x="197.87" y="696.62" width="5.20" height="5.20" fill="#000" />
<rect x="199.61" y="696.81" width="5.20" height="5.20" fill="#000" />
<rect x="201.35" y="697.00" width="5.20" height="5.20" fill="#000" />
<rect x="203.09" y="710.09" width="5.20" height="5.20" fill="#000" />
<rect x="204.84" y="711.51" width="5.20" height="5.20" fill="#000" />
<rect x="206.58" y="711.99" width="5.20" height="5.20" fill="#000" />
<rect x="208.32" y="712.23" width="5.20" height="5.20" fill="#000" />
<rect x="210.06" y="712.46" width="5.20" height="5.20" fill="#000" />
<rect x="211.81" y="712.70" width="5.20" height="5.20" fill="#000" />
<rect x="213.55" y="712.94" width="5.20" height="5.20" fill="#000" />
<rect x="215.29" y="713.17" width="5.20" height="5.20" fill="#000" />
<rect x="217.03" y="713.41" width="5.20" height="5.20" fill="#000" />
<rect x="218.78" y="713.65" width="5.20" height="5.20" fill="#000" />
<rect x="220.52" y="713.89" width="5.20" height="5.20" fill="#000" />
<rect x="222.26" y="714.12" width="5.20" height="5.20" fill="#000" />
<rect x="224.00" y="714.36" width="5.20" height="5.20" fill="#000" />
<rect x="225.75" y="714.60" width="5.20" height="5.20" fill="#000" />
<rect x="227.49" y="714.83" width="5.20" height="5.20" fill="#000" />
<rect x="229.23" y="715.07" width="5.20" height="5.20" fill="#000" />
<rect x="230.97" y="715.31" width="5.20" height="5.20" fill="#000" />
<rect x="232.72" y="715.55" width="5.20" height="5.20" fill="#000" />
<rect x="234.46" y="715.78" width="5.20" height="5.20" fill="#000" />
<rect x="236.20" y="716.02" width="5.20" height="5.20" fill="#000" />
<rect x="237.94" y="719.10" width="5.20" height="5.20" fill="#000" />
<rect x="239.69" y="719.11" width="5.20" height="5.20" fill="#000" />
<rect x="241.43" y="719.12" width="5.20" height="5.20" fill="#000" />
<rect x="243.17" y="719.13" width="5.20" height="5.20" fill="#000" />
<rect x="244.91" y="719.14" width="5.20" height="5.20" fill="#000" />
<rect x="246.66" y="719.15" width="5.20" height="5.20" fill="#000" />
<rect x="248.40" y="719.16" width="5.20" height="5.20" fill="#000" />
<rect x="250.14" y="719.17" width="5.20" height="5.20" fill="#000" />
<rect x="251.88" y="719.18" width="5.20" height="5.20" fill="#000" />
<rect x="253.63" y="719.19" width="5.20" height="5.20" fill="#000" />
<rect x="255.37" y="719.20" width="5.20" height="5.20" fill="#000" />
<rect x="257.11" y="719.21" width="5.20" height="5.20" fill="#000" />
<rect x="258.85" y="719.22" width="5.20" height="5.20" fill="#000" />
<rect x="260.59" y="719.23" width="5.20" height="5.20" fill="#000" />
<rect x="262.34" y="719.24" width="5.20" height="5.20" fill="#000" />
<rect x="264.08" y="719.25" width="5.20" height="5.20" fill="#000" />
<rect x="265.82" y="719.25" width="5.20" height="5.20" fill="#000" />
<rect x="267.56" y="719.26" width="5.20" height="5.20" fill="#000" />
<rect x="269.31" y="719.27" width="5.20" height="5.20" fill="#000" />
<rect x="271.05" y="719.28" width="5.20" height="5.20" fill="#000" />
<rect x="272.79" y="719.29" width="5.20" height="5.20" fill="#000" />
<rect x="274.53" y="719.30" width="5.20" height="5.20" fill="#000" />
<rect x="276.28" y="719.31" width="5.20" height="5.20" fill="#000" />
<rect x="278.02" y="719.32" width="5.20" height="5.20" fill="#000" />
<rect x="279.76" y="719.33" width="5.20" height="5.20" fill="#000" />
<rect x="281.50" y="719.34" width="5.20" height="5.20" fill="#000" />
<rect x="283.25" y="719.35" width="5.20" height="5.20" fill="#000" />
<rect x="284.99" y="719.36" width="5.20" height="5.20" fill="#000" />
<rect x="286.73" y="719.37" width="5.20" height="5.20" fill="#000" />
<rect x="288.47" y="719.38" width="5.20" height="5.20" fill="#000" />
<rect x="290.22" y="719.39" width="5.20" height="5.20" fill="#000" />
<rect x="291.96" y="719.40" width="5.20" height="5.20" fill="#000" />
<rect x="293.70" y="719.41" width="5.20" height="5.20" fill="#000" />
<rect x="295.44" y="719.42" width="5.20" height="5.20" fill="#000" />
<rect x="297.19" y="719.43" width="5.20" height="5.20" fill="#000" />
<rect x="298.93" y="719.43" width="5.20" height="5.20" fill="#000" />
<rect x="300.67" y="719.44" width="5.20" height="5.20" fill="#000" />
<rect x="302.41" y="719.45" width="5.20" height="5.20" fill="#000" />
<rect x="304.16" y="719.46" width="5.20" height="5.20" fill="#000" />
<rect x="305.90" y="719.47" width="5.20" height="5.20" fill="#000" />
<rect x="307.64" y="697.28" width="5.20" height="5.20" fill="#000" />
<rect x="309.38" y="697.02" width="5.20" height="5.20" fill="#000" />
<rect x="311.13" y="696.77" width="5.20" height="5.20" fill="#000" />
<rect x="312.87" y="696.53" width="5.20" height="5.20" fill="#000" />
<rect x="314.61" y="696.29" width="5.20" height="5.20" fill="#000" />
<rect x="316.35" y="696.07" width="5.20" height="5.20" fill="#000" />
<rect x="318.10" y="695.86" width="5.20" height="5.20" fill="#000" />
<rect x="319.84" y="695.65" width="5.20" height="5.20" fill="#000" />
<rect x="321.58" y="695.45" width="5.20" height="5.20" fill="#000" />
<rect x="323.32" y="695.26" width="5.20" height="5.20" fill="#000" />
<rect x="325.07" y="695.08" width="5.20" height="5.20" fill="#000" />
<rect x="326.81" y="694.90" width="5.20" height="5.20" fill="#000" />
<rect x="328.55" y="694.73" width="5.20" height="5.20" fill="#000" />
<rect x="330.29" y="694.57" width="5.20" height="5.20" fill="#000" />
<rect x="332.04" y="694.42" width="5.20" height="5.20" fill="#000" />
<rect x="333.78" y="694.27" width="5.20" height="5.20" fill="#000" />
<rect x="335.52" y="694.12" width="5.20" height="5.20" fill="#000" />
<rect x="337.26" y="693.99" width="5.20" height="5.20" fill="#000" />
<rect x="339.01" y="693.85" width="5.20" height="5.20" fill="#000" />
<rect x="340.75" y="693.73" width="5.20" height="5.20" fill="#000" />
<rect x="342.49" y="693.60" width="5.20" height="5.20" fill="#000" />
<rect x="344.24" y="693.49" width="5.20" height="5.20" fill="#000" />
<rect x="345.98" y="693.37" width="5.20" height="5.20" fill="#000" />
<rect x="347.72" y="693.27" width="5.20" height="5.20" fill="#000" />
<rect x="349.46" y="693.16" width="5.20" height="5.20" fill="#000" />
<rect x="351.20" y="693.06" width="5.20" height="5.20" fill="#000" />
<rect x="352.95" y="692.97" width="5.20" height="5.20" fill="#000" />
<rect x="354.69" y="692.88" width="5.20" height="5.20" fill="#000" />
<rect x="356.43" y="692.79" width="5.20" height="5.20" fill="#000" />
<rect x="358.17" y="692.70" width="5.20" height="5.20" fill="#000" />
<rect x="359.92" y="692.62" width="5.20" height="5.20" fill="#000" />
<rect x="361.66" y="692.54" width="5.20" height="5.20" fill="#000" />
<rect x="363.40" y="692.47" width="5.20" height="5.20" fill="#000" />
<rect x="365.14" y="692.40" width="5.20" height="5.20" fill="#000" />
<rect x="366.89" y="692.33" width="5.20" height="5.20" fill="#000" />
<rect x="368.63" y="692.26" width="5.20" height="5.20" fill="#000" />
<rect x="370.37" y="692.20" width="5.20" height="5.20" fill="#000" />
<rect x="372.12" y="692.13" width="5.20" height="5.20" fill="#000" />
<rect x="373.86" y="692.07" width="5.20" height="5.20" fill="#000" />
<rect x="375.60" y="692.02" width="5.20" height="5.20" fill="#000" />
<rect x="377.34" y="691.96" width="5.20" height="5.20" fill="#000" />
<rect x="379.08" y="691.91" width="5.20" height="5.20" fill="#000" />
<rect x="380.83" y="691.86" width="5.20" height="5.20" fill="#000" />
<rect x="382.57" y="691.81" width="5.20" height="5.20" fill="#000" />
<rect x="384.31" y="691.77" width="5.20" height="5.20" fill="#000" />
<rect x="386.05" y="691.72" width="5.20" height="5.20" fill="#000" />
<rect x="387.80" y="691.68" width="5.20" height="5.20" fill="#000" />
<rect x="389.54" y="691.64" width="5.20" height="5.20" fill="#000" />
<rect x="391.28" y="691.60" width="5.20" height="5.20" fill="#000" />
<rect x="393.02" y="691.56" width="5.20" height="5.20" fill="#000" />
<rect x="394.77" y="691.53" width="5.20" height="5.20" fill="#000" />
<rect x="396.51" y="691.49" width="5.20" height="5.20" fill="#000" />
<rect x="398.25" y="691.46" width="5.20" height="5.20" fill="#000" />
<rect x="400.00" y="691.42" width="5.20" height="5.20" fill="#000" />
<rect x="401.74" y="691.39" width="5.20" height="5.20" fill="#000" />
<rect x="403.48" y="691.36" width="5.20" height="5.20" fill="#000" />
<rect x="405.22" y="691.34" width="5.20" height="5.20" fill="#000" />
<rect x="406.96" y="691.31" width="5.20" height="5.20" fill="#000" />
<rect x="408.71" y="691.28" width="5.20" height="5.20" fill="#000" />
<rect x="410.45" y="691.26" width="5.20" height="5.20" fill="#000" />
<rect x="412.19" y="691.23" width="5.20" height="5.20" fill="#000" />
<rect x="413.93" y="691.21" width="5.20" height="5.20" fill="#000" />
<rect x="415.68" y="691.19" width="5.20" height="5.20" fill="#000" />
<rect x="417.42" y="691.17" width="5.20" height="5.20" fill="#000" />
<rect x="419.16" y="691.15" width="5.20" height="5.20" fill="#000" />
<rect x="420.90" y="691.13" width="5.20" height="5.20" fill="#000" />
<rect x="422.65" y="691.11" width="5.20" height="5.20" fill="#000" />
<rect x="424.39" y="691.09" width="5.20" height="5.20" fill="#000" />
<rect x="426.13" y="691.07" width="5.20" height="5.20" fill="#000" />
<rect x="427.88" y="691.05" width="5.20" height="5.20" fill="#000" />
<rect x="429.62" y="691.04" width="5.20" height="5.20" fill="#000" />
<rect x="431.36" y="691.02" width="5.20" height="5.20" fill="#000" />
<rect x="433.10" y="691.01" width="5.20" height="5.20" fill="#000" />
<rect x="434.85" y="690.99" width="5.20" height="5.20" fill="#000" />
<rect x="436.59" y="690.98" width="5.20" height="5.20" fill="#000" />
<rect x="438.33" y="690.97" width="5.20" height="5.20" fill="#000" />
<rect x="440.07" y="690.95" width="5.20" height="5.20" fill="#000" />
<rect x="441.81" y="690.94" width="5.20" height="5.20" fill="#000" />
<rect x="443.56" y="690.93" width="5.20" height="5.20" fill="#000" />
<rect x="445.30" y="690.92" width="5.20" height="5.20" fill="#000" />
<rect x="447.04" y="690.91" width="5.20" height="5.20" fill="#000" />
<rect x="448.78" y="690.90" width="5.20" height="5.20" fill="#000" />
<rect x="450.53" y="690.89" width="5.20" height="5.20" fill="#000" />
<rect x="452.27" y="690.88" width="5.20" height="5.20" fill="#000" />
<rect x="454.01" y="690.87" width="5.20" height="5.20" fill="#000" />
<rect x="455.75" y="690.86" width="5.20" height="5.20" fill="#000" />
<rect x="457.50" y="690.85" width="5.20" height="5.20" fill="#000" />
<rect x="459.24" y="690.84" width="5.20" height="5.20" fill="#000" />
<rect x="460.98" y="690.83" width="5.20" height="5.20" fill="#000" />
<rect x="462.73" y="690.83" width="5.20" height="5.20" fill="#000" />
<rect x="464.47" y="690.82" width="5.20" height="5.20" fill="#000" />
<rect x="466.21" y="690.81" width="5.20" height="5.20" fill="#000" />
<rect x="467.95" y="690.81" width="5.20" height="5.20" fill="#000" />
<rect x="469.69" y="690.80" width="5.20" height="5.20" fill="#000" />
<rect x="471.44" y="690.79" width="5.20" height="5.20" fill="#000" />
<rect x="473.18" y="690.79" width="5.20" height="5.20" fill="#000" />
<rect x="474.92" y="690.78" width="5.20" height="5.20" fill="#000" />
<rect x="476.66" y="690.78" width="5.20" height="5.20" fill="#000" />
<rect x="478.41" y="690.77" width="5.20" height="5.20" fill="#000" />
<rect x="480.15" y="690.77" width="5.20" height="5.20" fill="#000" />
<rect x="99.40" y="439.00" width="384.20" height="284.60" fill="none" stroke="#000" stroke-width="2"/>
<text x="87.70" y="730.30" font-size="22.47" fill="#000" font-weight="bold" text-anchor="end" textLength="11.68" lengthAdjust="spacingAndGlyphs" >0</text>
<text x="87.70" y="682.87" font-size="22.47" fill="#000" font-weight="bold" text-anchor="end" textLength="35.04" lengthAdjust="spacingAndGlyphs" >100</text>
<text x="87.70" y="635.44" font-size="22.47" fill="#000" font-weight="bold" text-anchor="end" textLength="35.04" lengthAdjust="spacingAndGlyphs" >200</text>
<text x="87.70" y="588.01" font-size="22.47" fill="#000" font-weight="bold" text-anchor="end" textLength="35.04" lengthAdjust="spacingAndGlyphs" >300</text>
<text x="87.70" y="540.58" font-size="22.47" fill="#000" font-weight="bold" text-anchor="end" textLength="35.04" lengthAdjust="spacingAndGlyphs" >400</text>
<text x="87.70" y="493.15" font-size="22.47" fill="#000" font-weight="bold" text-anchor="end" textLength="35.04" lengthAdjust="spacingAndGlyphs" >500</text>
<text x="87.70" y="445.72" font-size="22.47" fill="#000" font-weight="bold" text-anchor="end" textLength="35.04" lengthAdjust="spacingAndGlyphs" >600</text>
<text x="99.40" y="750.80" font-size="22.47" fill="#000" font-weight="bold" text-anchor="middle" textLength="11.68" lengthAdjust="spacingAndGlyphs" >0</text>
<text x="169.10" y="750.80" font-size="22.47" fill="#000" font-weight="bold" text-anchor="middle" textLength="23.36" lengthAdjust="spacingAndGlyphs" >40</text>
<text x="238.80" y="750.80" font-size="22.47" fill="#000" font-weight="bold" text-anchor="middle" textLength="23.36" lengthAdjust="spacingAndGlyphs" >80</text>
<text x="308.50" y="750.80" font-size="22.47" fill="#000" font-weight="bold" text-anchor="middle" textLength="35.04" lengthAdjust="spacingAndGlyphs" >120</text>
<text x="378.20" y="750.80" font-size="22.47" fill="#000" font-weight="bold" text-anchor="middle" textLength="35.04" lengthAdjust="spacingAndGlyphs" >160</text>
<text x="447.90" y="750.80" font-size="22.47" fill="#000" font-weight="bold" text-anchor="middle" textLength="35.04" lengthAdjust="spacingAndGlyphs" >200</text>
<text x="194.40" y="776.30" font-size="31.50" fill="#000" font-weight="bold" textLength="193.20" lengthAdjust="spacingAndGlyphs" >Cycle number</text>
<text x="47.60" y="770.90" font-size="31.50" fill="#000" font-weight="bold" textLength="238.20" lengthAdjust="spacingAndGlyphs" transform="rotate(-90 47.60 770.90)" >Specific capacity</text>
<text x="47.40" y="523.70" font-size="29.60" fill="#000" transform="rotate(-90 47.40 523.70)" >(</text>
<text x="47.60" y="513.70" font-size="30.50" fill="#000" font-weight="bold" textLength="90.00" lengthAdjust="spacingAndGlyphs" transform="rotate(-90 47.60 513.70)" >mAh g</text>
<text x="31.10" y="422.00" font-size="17.00" fill="#000" font-weight="bold" transform="rotate(-90 31.10 422.00)" >-1</text>
<text x="47.20" y="405.80" font-size="28.80" fill="#000" transform="rotate(-90 47.20 405.80)" >)</text>
<text x="428.70" y="475.60" font-size="47.00" fill="#000" font-weight="bold" textLength="54.40" lengthAdjust="spacingAndGlyphs" >(c)</text>
<text x="105.60" y="492.10" font-size="17.18" fill="#e41e26" font-weight="bold" textLength="21.50" lengthAdjust="spacingAndGlyphs" >1C</text>
<text x="141.20" y="491.00" font-size="17.18" fill="#e41e26" font-weight="bold" textLength="22.00" lengthAdjust="spacingAndGlyphs" >2C</text>
<text x="175.90" y="492.10" font-size="17.18" fill="#e41e26" font-weight="bold" textLength="21.50" lengthAdjust="spacingAndGlyphs" >5C</text>
<text x="206.80" y="492.90" font-size="17.18" fill="#e41e26" font-weight="bold" textLength="30.70" lengthAdjust="spacingAndGlyphs" >10C</text>
<text x="254.60" y="492.50" font-size="17.18" fill="#e41e26" font-weight="bold" textLength="31.70" lengthAdjust="spacingAndGlyphs" >20C</text>
<text x="395.70" y="493.30" font-size="16.34" fill="#e41e26" font-weight="bold" textLength="21.10" lengthAdjust="spacingAndGlyphs" >5C</text>
<text x="104.60" y="589.80" font-size="15.92" fill="#000" textLength="27.40" lengthAdjust="spacingAndGlyphs" stroke="#000" stroke-width="0.55">118</text>
<line x1="128.10" y1="613.20" x2="133.25" y2="656.54" stroke="#000" stroke-width="1.2" />
<polygon points="133.90,662.00 130.65,655.84 135.62,655.25" fill="#000"/>
<text x="141.80" y="665.90" font-size="16.34" fill="#000" textLength="18.50" lengthAdjust="spacingAndGlyphs" stroke="#000" stroke-width="0.55">86</text>
<line x1="161.30" y1="670.80" x2="164.74" y2="675.25" stroke="#000" stroke-width="1.2" />
<polygon points="168.10,679.60 162.15,675.99 166.10,672.93" fill="#000"/>
<text x="175.90" y="672.80" font-size="15.08" fill="#000" textLength="17.60" lengthAdjust="spacingAndGlyphs" stroke="#000" stroke-width="0.55">50</text>
<line x1="192.50" y1="677.70" x2="200.30" y2="689.69" stroke="#000" stroke-width="1.2" />
<polygon points="203.30,694.30 197.66,690.21 201.85,687.49" fill="#000"/>
<text x="212.10" y="695.20" font-size="14.94" fill="#000" textLength="17.50" lengthAdjust="spacingAndGlyphs" stroke="#000" stroke-width="0.55">10</text>
<line x1="226.70" y1="696.20" x2="236.06" y2="708.43" stroke="#000" stroke-width="1.2" />
<polygon points="239.40,712.80 233.46,709.16 237.44,706.12" fill="#000"/>
<text x="289.00" y="695.40" font-size="15.50" fill="#000" textLength="7.80" lengthAdjust="spacingAndGlyphs" stroke="#000" stroke-width="0.55">3</text>
<line x1="296.80" y1="699.80" x2="304.38" y2="713.12" stroke="#000" stroke-width="1.2" />
<polygon points="307.10,717.90 301.71,713.49 306.06,711.01" fill="#000"/>
<text x="446.50" y="665.00" font-size="16.34" fill="#000" textLength="18.90" lengthAdjust="spacingAndGlyphs" stroke="#000" stroke-width="0.55">64</text>
<line x1="468.50" y1="671.40" x2="475.93" y2="683.51" stroke="#000" stroke-width="1.2" />
<polygon points="478.80,688.20 473.27,683.97 477.53,681.35" fill="#000"/>
<line x1="595.70" y1="726.31" x2="599.20" y2="726.31" stroke="#000" stroke-width="1.5" />
<line x1="593.20" y1="706.50" x2="599.20" y2="706.50" stroke="#000" stroke-width="1.5" />
<line x1="595.70" y1="686.69" x2="599.20" y2="686.69" stroke="#000" stroke-width="1.5" />
<line x1="593.20" y1="666.88" x2="599.20" y2="666.88" stroke="#000" stroke-width="1.5" />
<line x1="595.70" y1="647.08" x2="599.20" y2="647.08" stroke="#000" stroke-width="1.5" />
<line x1="593.20" y1="627.27" x2="599.20" y2="627.27" stroke="#000" stroke-width="1.5" />
<line x1="595.70" y1="607.46" x2="599.20" y2="607.46" stroke="#000" stroke-width="1.5" />
<line x1="593.20" y1="587.65" x2="599.20" y2="587.65" stroke="#000" stroke-width="1.5" />
<line x1="595.70" y1="567.85" x2="599.20" y2="567.85" stroke="#000" stroke-width="1.5" />
<line x1="593.20" y1="548.04" x2="599.20" y2="548.04" stroke="#000" stroke-width="1.5" />
<line x1="595.70" y1="528.23" x2="599.20" y2="528.23" stroke="#000" stroke-width="1.5" />
<line x1="593.20" y1="508.42" x2="599.20" y2="508.42" stroke="#000" stroke-width="1.5" />
<line x1="595.70" y1="488.62" x2="599.20" y2="488.62" stroke="#000" stroke-width="1.5" />
<line x1="593.20" y1="468.81" x2="599.20" y2="468.81" stroke="#000" stroke-width="1.5" />
<line x1="595.70" y1="449.00" x2="599.20" y2="449.00" stroke="#000" stroke-width="1.5" />
<line x1="599.40" y1="728.90" x2="599.40" y2="732.90" stroke="#000" stroke-width="1.5" />
<line x1="630.20" y1="728.90" x2="630.20" y2="734.90" stroke="#000" stroke-width="1.5" />
<line x1="661.00" y1="728.90" x2="661.00" y2="732.90" stroke="#000" stroke-width="1.5" />
<line x1="691.80" y1="728.90" x2="691.80" y2="734.90" stroke="#000" stroke-width="1.5" />
<line x1="722.60" y1="728.90" x2="722.60" y2="732.90" stroke="#000" stroke-width="1.5" />
<line x1="753.40" y1="728.90" x2="753.40" y2="734.90" stroke="#000" stroke-width="1.5" />
<line x1="784.20" y1="728.90" x2="784.20" y2="732.90" stroke="#000" stroke-width="1.5" />
<line x1="815.00" y1="728.90" x2="815.00" y2="734.90" stroke="#000" stroke-width="1.5" />
<line x1="845.80" y1="728.90" x2="845.80" y2="732.90" stroke="#000" stroke-width="1.5" />
<line x1="876.60" y1="728.90" x2="876.60" y2="734.90" stroke="#000" stroke-width="1.5" />
<line x1="907.40" y1="728.90" x2="907.40" y2="732.90" stroke="#000" stroke-width="1.5" />
<line x1="938.20" y1="728.90" x2="938.20" y2="734.90" stroke="#000" stroke-width="1.5" />
<line x1="969.00" y1="728.90" x2="969.00" y2="732.90" stroke="#000" stroke-width="1.5" />
<line x1="999.80" y1="728.90" x2="999.80" y2="734.90" stroke="#000" stroke-width="1.5" />
<path d="M629.30,691.80 C631.90,688.87 640.02,680.38 644.90,674.20 C649.78,668.02 654.68,661.20 658.60,654.70 C662.52,648.20 665.15,642.37 668.40,635.20 C671.65,628.03 675.50,617.57 678.10,611.70 C680.70,605.83 681.85,604.12 684.00,600.00 C686.15,595.88 688.93,590.40 691.00,587.00 C693.07,583.60 693.68,581.30 696.40,579.60 C699.12,577.90 700.92,577.85 707.30,576.80 C713.68,575.75 728.32,574.43 734.70,573.30 C741.08,572.17 742.00,572.60 745.60,570.00 C749.20,567.40 751.92,564.63 756.30,557.70 C760.68,550.77 767.95,536.58 771.90,528.40 C775.85,520.22 777.15,515.63 780.00,508.60 C782.85,501.57 786.38,493.13 789.00,486.20 C791.62,479.27 794.58,470.20 795.70,467.00" fill="none" stroke="#000" stroke-width="1.9" stroke-linejoin="round" stroke-linecap="round" />
<path d="M636.10,585.00 C639.85,585.33 651.28,586.67 658.60,587.00 C665.92,587.33 671.88,586.65 680.00,587.00 C688.12,587.35 700.47,588.07 707.30,589.10 C714.13,590.13 716.43,591.15 721.00,593.20 C725.57,595.25 730.13,598.43 734.70,601.40 C739.27,604.37 743.85,607.35 748.40,611.00 C752.95,614.65 757.45,619.42 762.00,623.30 C766.55,627.18 771.13,631.10 775.70,634.30 C780.27,637.50 784.85,640.22 789.40,642.50 C793.95,644.78 798.45,646.18 803.00,648.00 C807.55,649.82 812.13,651.58 816.70,653.40 C821.27,655.22 825.83,656.85 830.40,658.90 C834.97,660.95 839.55,663.43 844.10,665.70 C848.65,667.97 853.15,670.22 857.70,672.50 C862.25,674.78 866.83,677.35 871.40,679.40 C875.97,681.45 880.53,682.98 885.10,684.80 C889.67,686.62 894.25,688.57 898.80,690.30 C903.35,692.03 907.85,693.73 912.40,695.20 C916.95,696.67 919.48,697.63 926.10,699.10 C932.72,700.57 947.77,703.18 952.10,704.00" fill="none" stroke="#000" stroke-width="1.9" stroke-linejoin="round" stroke-linecap="round" />
<path d="M629.30,689.80 C630.92,684.60 635.75,670.32 639.00,658.60 C642.25,646.88 646.18,629.27 648.80,619.50 C651.42,609.73 652.75,607.38 654.70,600.00 C656.65,592.62 656.60,583.88 660.50,575.20 C664.40,566.52 672.88,559.93 678.10,547.90 C683.32,535.87 687.88,516.35 691.80,503.00 C695.72,489.65 699.97,473.67 701.60,467.80" fill="none" stroke="#e41e26" stroke-width="1.9" stroke-linejoin="round" stroke-linecap="round" />
<path d="M639.00,594.80 C641.28,597.95 648.45,605.33 652.70,613.70 C656.95,622.07 660.27,635.23 664.50,645.00 C668.73,654.77 673.88,664.83 678.10,672.30 C682.32,679.77 685.57,684.52 689.80,689.80 C694.03,695.08 701.22,701.63 703.50,704.00" fill="none" stroke="#e41e26" stroke-width="1.9" stroke-linejoin="round" stroke-linecap="round" />
<path d="M629.30,680.00 C630.75,673.33 635.07,653.33 638.00,640.00 C640.93,626.67 644.77,610.47 646.90,600.00 C649.03,589.53 648.20,586.87 650.80,577.20 C653.40,567.53 658.60,555.03 662.50,542.00 C666.40,528.97 670.78,511.37 674.20,499.00 C677.62,486.63 681.53,473.00 683.00,467.80" fill="none" stroke="#26dc26" stroke-width="1.9" stroke-linejoin="round" stroke-linecap="round" />
<path d="M635.20,596.70 C635.83,599.20 636.40,604.65 639.00,611.70 C641.60,618.75 646.55,629.88 650.80,639.00 C655.05,648.12 659.95,657.93 664.50,666.40 C669.05,674.87 674.85,683.53 678.10,689.80 C681.35,696.07 683.02,701.63 684.00,704.00" fill="none" stroke="#26dc26" stroke-width="1.9" stroke-linejoin="round" stroke-linecap="round" />
<path d="M629.30,672.30 C630.75,660.25 635.72,614.55 638.00,600.00 C640.28,585.45 640.55,593.68 643.00,585.00 C645.45,576.32 649.45,560.60 652.70,547.90 C655.95,535.20 659.73,522.15 662.50,508.80 C665.27,495.45 668.17,474.63 669.30,467.80" fill="none" stroke="#8c8a2a" stroke-width="1.9" stroke-linejoin="round" stroke-linecap="round" />
<path d="M631.00,545.00 C632.02,556.77 634.45,598.30 637.10,615.60 C639.75,632.90 643.65,639.03 646.90,648.80 C650.15,658.57 653.35,666.05 656.60,674.20 C659.85,682.35 664.12,692.73 666.40,697.70 C668.68,702.67 669.65,702.95 670.30,704.00" fill="none" stroke="#8c8a2a" stroke-width="1.9" stroke-linejoin="round" stroke-linecap="round" />
<path d="M630.00,690.00 C630.53,677.67 632.02,634.80 633.20,616.00 C634.38,597.20 635.30,589.53 637.10,577.20 C638.90,564.87 641.40,555.03 644.00,542.00 C646.60,528.97 649.95,511.37 652.70,499.00 C655.45,486.63 659.20,473.00 660.50,467.80" fill="none" stroke="#2222dd" stroke-width="1.9" stroke-linejoin="round" stroke-linecap="round" />
<path d="M630.50,560.00 C630.95,567.65 631.78,592.73 633.20,605.90 C634.62,619.07 636.40,627.93 639.00,639.00 C641.60,650.07 645.22,661.55 648.80,672.30 C652.38,683.05 658.55,698.30 660.50,703.50" fill="none" stroke="#2222dd" stroke-width="1.9" stroke-linejoin="round" stroke-linecap="round" />
<path d="M629.50,620.00 C629.47,613.33 629.17,592.67 629.30,580.00 C629.43,567.33 629.82,555.87 630.30,544.00 C630.78,532.13 631.23,521.50 632.20,508.80 C633.17,496.10 635.45,474.63 636.10,467.80" fill="none" stroke="#22e4ee" stroke-width="1.9" stroke-linejoin="round" stroke-linecap="round" />
<path d="M631.25,607.80 C631.58,620.17 632.39,666.37 633.20,682.00 C634.01,697.63 635.62,698.33 636.10,701.60" fill="none" stroke="#22e4ee" stroke-width="1.9" stroke-linejoin="round" stroke-linecap="round" />
<line x1="630.30" y1="699.60" x2="630.80" y2="703.50" stroke="#e61ee6" stroke-width="2" />
<line x1="629.50" y1="468.00" x2="630.50" y2="471.00" stroke="#e61ee6" stroke-width="2" />
<rect x="599.20" y="436.60" width="403.10" height="292.30" fill="none" stroke="#000" stroke-width="2"/>
<text x="588.00" y="713.00" font-size="23.01" fill="#000" font-weight="bold" text-anchor="end" textLength="31.50" lengthAdjust="spacingAndGlyphs" >0.0</text>
<text x="588.00" y="673.38" font-size="23.01" fill="#000" font-weight="bold" text-anchor="end" textLength="31.50" lengthAdjust="spacingAndGlyphs" >0.5</text>
<text x="588.00" y="633.77" font-size="23.01" fill="#000" font-weight="bold" text-anchor="end" textLength="31.50" lengthAdjust="spacingAndGlyphs" >1.0</text>
<text x="588.00" y="594.15" font-size="23.01" fill="#000" font-weight="bold" text-anchor="end" textLength="31.50" lengthAdjust="spacingAndGlyphs" >1.5</text>
<text x="588.00" y="554.54" font-size="23.01" fill="#000" font-weight="bold" text-anchor="end" textLength="31.50" lengthAdjust="spacingAndGlyphs" >2.0</text>
<text x="588.00" y="514.92" font-size="23.01" fill="#000" font-weight="bold" text-anchor="end" textLength="31.50" lengthAdjust="spacingAndGlyphs" >2.5</text>
<text x="588.00" y="475.31" font-size="23.01" fill="#000" font-weight="bold" text-anchor="end" textLength="31.50" lengthAdjust="spacingAndGlyphs" >3.0</text>
<g clip-path="url(#clipR)">
<text x="630.20" y="758.00" font-size="23.33" fill="#000" font-weight="bold" text-anchor="middle" textLength="11.70" lengthAdjust="spacingAndGlyphs" >0</text>
<text x="691.80" y="758.00" font-size="23.33" fill="#000" font-weight="bold" text-anchor="middle" textLength="36.50" lengthAdjust="spacingAndGlyphs" >100</text>
<text x="753.40" y="758.00" font-size="23.33" fill="#000" font-weight="bold" text-anchor="middle" textLength="36.50" lengthAdjust="spacingAndGlyphs" >200</text>
<text x="815.00" y="758.00" font-size="23.33" fill="#000" font-weight="bold" text-anchor="middle" textLength="36.50" lengthAdjust="spacingAndGlyphs" >300</text>
<text x="876.60" y="758.00" font-size="23.33" fill="#000" font-weight="bold" text-anchor="middle" textLength="36.50" lengthAdjust="spacingAndGlyphs" >400</text>
<text x="938.20" y="758.00" font-size="23.33" fill="#000" font-weight="bold" text-anchor="middle" textLength="36.50" lengthAdjust="spacingAndGlyphs" >500</text>
<text x="999.80" y="758.00" font-size="23.33" fill="#000" font-weight="bold" text-anchor="middle" textLength="36.50" lengthAdjust="spacingAndGlyphs" >600</text>
</g>
<text x="540.80" y="669.00" font-size="30.50" fill="#000" font-weight="bold" textLength="166.70" lengthAdjust="spacingAndGlyphs" transform="rotate(-90 540.80 669.00)" >Voltage (V)</text>
<text x="602.10" y="786.00" font-size="31.50" fill="#000" font-weight="bold" textLength="255.30" lengthAdjust="spacingAndGlyphs" >Specific capacity</text>
<text x="867.45" y="786.00" font-size="20.80" fill="#000" >(</text>
<text x="875.80" y="786.00" font-size="31.00" fill="#000" font-weight="bold" textLength="69.20" lengthAdjust="spacingAndGlyphs" >mAh</text>
<text x="956.90" y="786.00" font-size="30.00" fill="#000" font-weight="bold" textLength="15.60" lengthAdjust="spacingAndGlyphs" >g</text>
<text x="977.40" y="769.70" font-size="16.50" fill="#000" font-weight="bold" >-1</text>
<text x="992.10" y="786.00" font-size="20.80" fill="#000" >)</text>
<text x="938.30" y="479.50" font-size="48.50" fill="#000" font-weight="bold" textLength="60.60" lengthAdjust="spacingAndGlyphs" >(d)</text>
<text x="601.80" y="451.50" font-size="15.08" fill="#e61ee6" font-weight="bold" textLength="31.30" lengthAdjust="spacingAndGlyphs" >20C</text>
<text x="636.00" y="451.50" font-size="15.08" fill="#22e4ee" font-weight="bold" textLength="29.30" lengthAdjust="spacingAndGlyphs" >10C</text>
<text x="666.30" y="451.50" font-size="15.08" fill="#2222dd" font-weight="bold" textLength="21.50" lengthAdjust="spacingAndGlyphs" >5C</text>
<text x="690.70" y="451.50" font-size="15.08" fill="#26dc26" font-weight="bold" textLength="21.50" lengthAdjust="spacingAndGlyphs" >2C</text>
<text x="713.20" y="451.50" font-size="15.08" fill="#e41e26" font-weight="bold" textLength="77.10" lengthAdjust="spacingAndGlyphs" >1C@20th</text>
<text x="798.00" y="451.80" font-size="16.34" fill="#000" font-weight="bold" textLength="64.00" lengthAdjust="spacingAndGlyphs" >1C@1st</text>
<text x="696.70" y="504.50" font-size="17.18" fill="#8c8a2a" font-weight="bold" textLength="85.90" lengthAdjust="spacingAndGlyphs" >5C@220th</text>
<line x1="620.40" y1="456.40" x2="627.37" y2="466.48" stroke="#000" stroke-width="1.2" />
<polygon points="630.50,471.00 624.75,467.08 628.86,464.23" fill="#000"/>
<line x1="650.70" y1="455.40" x2="641.18" y2="463.53" stroke="#000" stroke-width="1.2" />
<polygon points="637.00,467.10 640.32,460.98 643.57,464.78" fill="#000"/>
<line x1="673.10" y1="454.40" x2="666.11" y2="462.04" stroke="#000" stroke-width="1.2" />
<polygon points="662.40,466.10 664.94,459.62 668.63,462.99" fill="#000"/>
<line x1="698.50" y1="454.40" x2="688.05" y2="463.49" stroke="#000" stroke-width="1.2" />
<polygon points="683.90,467.10 687.16,460.95 690.44,464.72" fill="#000"/>
<line x1="739.50" y1="456.40" x2="709.62" y2="466.36" stroke="#000" stroke-width="1.2" />
<polygon points="704.40,468.10 709.78,463.67 711.36,468.42" fill="#000"/>
<line x1="835.00" y1="453.60" x2="802.02" y2="464.65" stroke="#000" stroke-width="1.2" />
<polygon points="796.80,466.40 802.17,461.96 803.76,466.71" fill="#000"/>
<line x1="703.50" y1="491.25" x2="671.81" y2="485.40" stroke="#000" stroke-width="1.2" />
<polygon points="666.40,484.40 673.25,483.12 672.34,488.04" fill="#000"/>
<text x="602.00" y="724.60" font-size="15.78" fill="#e61ee6" font-weight="bold" textLength="30.20" lengthAdjust="spacingAndGlyphs" >20C</text>
<text x="638.00" y="724.60" font-size="15.78" fill="#22e4ee" font-weight="bold" textLength="28.40" lengthAdjust="spacingAndGlyphs" >10C</text>
<text x="666.40" y="724.60" font-size="15.78" fill="#2222dd" font-weight="bold" textLength="20.50" lengthAdjust="spacingAndGlyphs" >5C</text>
<text x="689.80" y="724.60" font-size="15.78" fill="#26dc26" font-weight="bold" textLength="21.50" lengthAdjust="spacingAndGlyphs" >2C</text>
<text x="715.20" y="724.60" font-size="15.78" fill="#e41e26" font-weight="bold" textLength="74.30" lengthAdjust="spacingAndGlyphs" >1C@20th</text>
<text x="725.00" y="691.80" font-size="16.48" fill="#8c8a2a" font-weight="bold" textLength="86.40" lengthAdjust="spacingAndGlyphs" >5C@220th</text>
<text x="866.50" y="723.50" font-size="16.62" fill="#000" font-weight="bold" textLength="66.20" lengthAdjust="spacingAndGlyphs" >1C@1st</text>
<line x1="618.60" y1="716.80" x2="625.69" y2="708.65" stroke="#000" stroke-width="1.2" />
<polygon points="629.30,704.50 626.92,711.04 623.15,707.76" fill="#000"/>
<line x1="649.80" y1="714.30" x2="641.97" y2="706.41" stroke="#000" stroke-width="1.2" />
<polygon points="638.10,702.50 644.45,705.36 640.90,708.88" fill="#000"/>
<line x1="674.20" y1="713.30" x2="666.19" y2="708.38" stroke="#000" stroke-width="1.2" />
<polygon points="661.50,705.50 668.35,706.77 665.73,711.03" fill="#000"/>
<line x1="697.70" y1="714.30" x2="688.47" y2="707.70" stroke="#000" stroke-width="1.2" />
<polygon points="684.00,704.50 690.74,706.25 687.83,710.32" fill="#000"/>
<line x1="725.00" y1="713.30" x2="710.61" y2="707.54" stroke="#000" stroke-width="1.2" />
<polygon points="705.50,705.50 712.46,705.59 710.61,710.24" fill="#000"/>
<line x1="721.10" y1="686.90" x2="668.97" y2="692.78" stroke="#000" stroke-width="1.2" />
<polygon points="663.50,693.40 669.68,690.19 670.24,695.16" fill="#000"/>
<line x1="900.20" y1="708.20" x2="919.62" y2="702.54" stroke="#000" stroke-width="1.2" />
<polygon points="924.90,701.00 919.36,705.22 917.96,700.42" fill="#000"/>
<line x1="146.80" y1="834.80" x2="146.80" y2="1122.30" stroke="#858585" stroke-width="1.4" stroke-dasharray="3.7,3"/>
<line x1="185.50" y1="834.80" x2="185.50" y2="1122.30" stroke="#858585" stroke-width="1.4" stroke-dasharray="3.7,3"/>
<line x1="262.90" y1="834.80" x2="262.90" y2="1122.30" stroke="#858585" stroke-width="1.4" stroke-dasharray="3.7,3"/>
<line x1="340.30" y1="834.80" x2="340.30" y2="1122.30" stroke="#858585" stroke-width="1.4" stroke-dasharray="3.7,3"/>
<line x1="102.20" y1="1112.10" x2="108.20" y2="1112.10" stroke="#000" stroke-width="1.6" />
<line x1="104.20" y1="1092.25" x2="108.20" y2="1092.25" stroke="#000" stroke-width="1.6" />
<line x1="102.20" y1="1072.40" x2="108.20" y2="1072.40" stroke="#000" stroke-width="1.6" />
<line x1="104.20" y1="1052.55" x2="108.20" y2="1052.55" stroke="#000" stroke-width="1.6" />
<line x1="102.20" y1="1032.70" x2="108.20" y2="1032.70" stroke="#000" stroke-width="1.6" />
<line x1="104.20" y1="1012.85" x2="108.20" y2="1012.85" stroke="#000" stroke-width="1.6" />
<line x1="102.20" y1="993.00" x2="108.20" y2="993.00" stroke="#000" stroke-width="1.6" />
<line x1="104.20" y1="973.15" x2="108.20" y2="973.15" stroke="#000" stroke-width="1.6" />
<line x1="102.20" y1="953.30" x2="108.20" y2="953.30" stroke="#000" stroke-width="1.6" />
<line x1="104.20" y1="933.45" x2="108.20" y2="933.45" stroke="#000" stroke-width="1.6" />
<line x1="102.20" y1="913.60" x2="108.20" y2="913.60" stroke="#000" stroke-width="1.6" />
<line x1="104.20" y1="893.75" x2="108.20" y2="893.75" stroke="#000" stroke-width="1.6" />
<line x1="102.20" y1="873.90" x2="108.20" y2="873.90" stroke="#000" stroke-width="1.6" />
<line x1="104.20" y1="854.05" x2="108.20" y2="854.05" stroke="#000" stroke-width="1.6" />
<line x1="102.20" y1="834.20" x2="108.20" y2="834.20" stroke="#000" stroke-width="1.6" />
<line x1="108.10" y1="1122.30" x2="108.10" y2="1128.30" stroke="#000" stroke-width="1.6" />
<line x1="146.80" y1="1122.30" x2="146.80" y2="1126.30" stroke="#000" stroke-width="1.6" />
<line x1="185.50" y1="1122.30" x2="185.50" y2="1128.30" stroke="#000" stroke-width="1.6" />
<line x1="224.20" y1="1122.30" x2="224.20" y2="1126.30" stroke="#000" stroke-width="1.6" />
<line x1="262.90" y1="1122.30" x2="262.90" y2="1128.30" stroke="#000" stroke-width="1.6" />
<line x1="301.60" y1="1122.30" x2="301.60" y2="1126.30" stroke="#000" stroke-width="1.6" />
<line x1="340.30" y1="1122.30" x2="340.30" y2="1128.30" stroke="#000" stroke-width="1.6" />
<line x1="379.00" y1="1122.30" x2="379.00" y2="1126.30" stroke="#000" stroke-width="1.6" />
<line x1="417.70" y1="1122.30" x2="417.70" y2="1128.30" stroke="#000" stroke-width="1.6" />
<line x1="456.40" y1="1122.30" x2="456.40" y2="1126.30" stroke="#000" stroke-width="1.6" />
<line x1="495.10" y1="1122.30" x2="495.10" y2="1128.30" stroke="#000" stroke-width="1.6" />
<rect x="109.37" y="862.17" width="5.20" height="5.20" fill="#000" />
<rect x="113.24" y="886.19" width="5.20" height="5.20" fill="#000" />
<rect x="117.11" y="883.21" width="5.20" height="5.20" fill="#000" />
<rect x="120.98" y="886.19" width="5.20" height="5.20" fill="#000" />
<rect x="124.85" y="892.94" width="5.20" height="5.20" fill="#000" />
<rect x="128.72" y="897.90" width="5.20" height="5.20" fill="#000" />
<rect x="132.59" y="901.87" width="5.20" height="5.20" fill="#000" />
<rect x="136.46" y="906.04" width="5.20" height="5.20" fill="#000" />
<rect x="140.33" y="908.02" width="5.20" height="5.20" fill="#000" />
<rect x="144.20" y="910.21" width="5.20" height="5.20" fill="#000" />
<rect x="148.07" y="964.79" width="5.20" height="5.20" fill="#000" />
<rect x="151.94" y="983.45" width="5.20" height="5.20" fill="#000" />
<rect x="155.81" y="984.74" width="5.20" height="5.20" fill="#000" />
<rect x="159.68" y="986.03" width="5.20" height="5.20" fill="#000" />
<rect x="163.55" y="987.32" width="5.20" height="5.20" fill="#000" />
<rect x="167.42" y="988.61" width="5.20" height="5.20" fill="#000" />
<rect x="171.29" y="989.90" width="5.20" height="5.20" fill="#000" />
<rect x="175.16" y="991.19" width="5.20" height="5.20" fill="#000" />
<rect x="179.03" y="992.48" width="5.20" height="5.20" fill="#000" />
<rect x="182.90" y="993.77" width="5.20" height="5.20" fill="#000" />
<rect x="186.77" y="1028.51" width="5.20" height="5.20" fill="#000" />
<rect x="190.64" y="1039.23" width="5.20" height="5.20" fill="#000" />
<rect x="194.51" y="1041.02" width="5.20" height="5.20" fill="#000" />
<rect x="198.38" y="1043.27" width="5.20" height="5.20" fill="#000" />
<rect x="202.25" y="1045.22" width="5.20" height="5.20" fill="#000" />
<rect x="206.12" y="1046.91" width="5.20" height="5.20" fill="#000" />
<rect x="209.99" y="1048.39" width="5.20" height="5.20" fill="#000" />
<rect x="213.86" y="1049.67" width="5.20" height="5.20" fill="#000" />
<rect x="217.73" y="1050.79" width="5.20" height="5.20" fill="#000" />
<rect x="221.60" y="1051.76" width="5.20" height="5.20" fill="#000" />
<rect x="225.47" y="1052.61" width="5.20" height="5.20" fill="#000" />
<rect x="229.34" y="1053.36" width="5.20" height="5.20" fill="#000" />
<rect x="233.21" y="1054.02" width="5.20" height="5.20" fill="#000" />
<rect x="237.08" y="1054.59" width="5.20" height="5.20" fill="#000" />
<rect x="240.95" y="1055.10" width="5.20" height="5.20" fill="#000" />
<rect x="244.82" y="1055.55" width="5.20" height="5.20" fill="#000" />
<rect x="248.69" y="1055.94" width="5.20" height="5.20" fill="#000" />
<rect x="252.56" y="1056.30" width="5.20" height="5.20" fill="#000" />
<rect x="256.43" y="1056.61" width="5.20" height="5.20" fill="#000" />
<rect x="260.30" y="1056.90" width="5.20" height="5.20" fill="#000" />
<rect x="264.17" y="1107.91" width="5.20" height="5.20" fill="#000" />
<rect x="268.04" y="1107.89" width="5.20" height="5.20" fill="#000" />
<rect x="271.91" y="1107.87" width="5.20" height="5.20" fill="#000" />
<rect x="275.78" y="1107.85" width="5.20" height="5.20" fill="#000" />
<rect x="279.65" y="1107.83" width="5.20" height="5.20" fill="#000" />
<rect x="283.52" y="1107.81" width="5.20" height="5.20" fill="#000" />
<rect x="287.39" y="1107.79" width="5.20" height="5.20" fill="#000" />
<rect x="291.26" y="1107.77" width="5.20" height="5.20" fill="#000" />
<rect x="295.13" y="1107.75" width="5.20" height="5.20" fill="#000" />
<rect x="299.00" y="1107.73" width="5.20" height="5.20" fill="#000" />
<rect x="302.87" y="1107.71" width="5.20" height="5.20" fill="#000" />
<rect x="306.74" y="1107.69" width="5.20" height="5.20" fill="#000" />
<rect x="310.61" y="1107.67" width="5.20" height="5.20" fill="#000" />
<rect x="314.48" y="1107.65" width="5.20" height="5.20" fill="#000" />
<rect x="318.35" y="1107.63" width="5.20" height="5.20" fill="#000" />
<rect x="322.22" y="1107.61" width="5.20" height="5.20" fill="#000" />
<rect x="326.09" y="1107.59" width="5.20" height="5.20" fill="#000" />
<rect x="329.96" y="1107.57" width="5.20" height="5.20" fill="#000" />
<rect x="333.83" y="1107.55" width="5.20" height="5.20" fill="#000" />
<rect x="337.70" y="1107.53" width="5.20" height="5.20" fill="#000" />
<rect x="341.57" y="991.99" width="5.20" height="5.20" fill="#000" />
<rect x="345.44" y="1009.65" width="5.20" height="5.20" fill="#000" />
<rect x="349.31" y="1009.55" width="5.20" height="5.20" fill="#000" />
<rect x="353.18" y="1009.36" width="5.20" height="5.20" fill="#000" />
<rect x="357.05" y="1009.74" width="5.20" height="5.20" fill="#000" />
<rect x="360.92" y="1010.61" width="5.20" height="5.20" fill="#000" />
<rect x="364.79" y="1011.50" width="5.20" height="5.20" fill="#000" />
<rect x="368.66" y="1011.93" width="5.20" height="5.20" fill="#000" />
<rect x="372.53" y="1011.89" width="5.20" height="5.20" fill="#000" />
<rect x="376.40" y="1011.80" width="5.20" height="5.20" fill="#000" />
<rect x="380.27" y="1012.15" width="5.20" height="5.20" fill="#000" />
<rect x="384.14" y="1013.03" width="5.20" height="5.20" fill="#000" />
<rect x="388.01" y="1014.06" width="5.20" height="5.20" fill="#000" />
<rect x="391.88" y="1014.73" width="5.20" height="5.20" fill="#000" />
<rect x="395.75" y="1014.87" width="5.20" height="5.20" fill="#000" />
<rect x="399.62" y="1014.81" width="5.20" height="5.20" fill="#000" />
<rect x="403.49" y="1015.06" width="5.20" height="5.20" fill="#000" />
<rect x="407.36" y="1015.86" width="5.20" height="5.20" fill="#000" />
<rect x="411.23" y="1016.96" width="5.20" height="5.20" fill="#000" />
<rect x="415.10" y="1017.82" width="5.20" height="5.20" fill="#000" />
<rect x="418.97" y="1018.14" width="5.20" height="5.20" fill="#000" />
<rect x="422.84" y="1018.12" width="5.20" height="5.20" fill="#000" />
<rect x="426.71" y="1018.28" width="5.20" height="5.20" fill="#000" />
<rect x="430.58" y="1018.98" width="5.20" height="5.20" fill="#000" />
<rect x="434.45" y="1020.08" width="5.20" height="5.20" fill="#000" />
<rect x="438.32" y="1021.09" width="5.20" height="5.20" fill="#000" />
<rect x="442.19" y="1021.60" width="5.20" height="5.20" fill="#000" />
<rect x="446.06" y="1021.66" width="5.20" height="5.20" fill="#000" />
<rect x="449.93" y="1021.75" width="5.20" height="5.20" fill="#000" />
<rect x="453.80" y="1022.31" width="5.20" height="5.20" fill="#000" />
<rect x="457.67" y="1023.37" width="5.20" height="5.20" fill="#000" />
<rect x="461.54" y="1024.49" width="5.20" height="5.20" fill="#000" />
<rect x="465.41" y="1025.19" width="5.20" height="5.20" fill="#000" />
<rect x="469.28" y="1025.37" width="5.20" height="5.20" fill="#000" />
<rect x="473.15" y="1025.42" width="5.20" height="5.20" fill="#000" />
<rect x="477.02" y="1025.85" width="5.20" height="5.20" fill="#000" />
<rect x="480.89" y="1026.83" width="5.20" height="5.20" fill="#000" />
<rect x="484.76" y="1028.01" width="5.20" height="5.20" fill="#000" />
<rect x="488.63" y="1028.88" width="5.20" height="5.20" fill="#000" />
<rect x="492.50" y="1029.21" width="5.20" height="5.20" fill="#000" />
<rect x="108.20" y="834.80" width="387.30" height="287.50" fill="none" stroke="#000" stroke-width="2"/>
<text x="97.30" y="1119.00" font-size="22.47" fill="#000" font-weight="bold" text-anchor="end" textLength="11.68" lengthAdjust="spacingAndGlyphs" >0</text>
<text x="97.30" y="1079.30" font-size="22.47" fill="#000" font-weight="bold" text-anchor="end" textLength="35.04" lengthAdjust="spacingAndGlyphs" >200</text>
<text x="97.30" y="1039.60" font-size="22.47" fill="#000" font-weight="bold" text-anchor="end" textLength="35.04" lengthAdjust="spacingAndGlyphs" >400</text>
<text x="97.30" y="999.90" font-size="22.47" fill="#000" font-weight="bold" text-anchor="end" textLength="35.04" lengthAdjust="spacingAndGlyphs" >600</text>
<text x="97.30" y="960.20" font-size="22.47" fill="#000" font-weight="bold" text-anchor="end" textLength="35.04" lengthAdjust="spacingAndGlyphs" >800</text>
<text x="97.30" y="920.50" font-size="22.47" fill="#000" font-weight="bold" text-anchor="end" textLength="46.72" lengthAdjust="spacingAndGlyphs" >1000</text>
<text x="97.30" y="880.80" font-size="22.47" fill="#000" font-weight="bold" text-anchor="end" textLength="46.72" lengthAdjust="spacingAndGlyphs" >1200</text>
<text x="97.30" y="841.10" font-size="22.47" fill="#000" font-weight="bold" text-anchor="end" textLength="46.72" lengthAdjust="spacingAndGlyphs" >1400</text>
<text x="108.10" y="1149.50" font-size="22.47" fill="#000" font-weight="bold" text-anchor="middle" textLength="11.68" lengthAdjust="spacingAndGlyphs" >0</text>
<text x="185.50" y="1149.50" font-size="22.47" fill="#000" font-weight="bold" text-anchor="middle" textLength="23.36" lengthAdjust="spacingAndGlyphs" >20</text>
<text x="262.90" y="1149.50" font-size="22.47" fill="#000" font-weight="bold" text-anchor="middle" textLength="23.36" lengthAdjust="spacingAndGlyphs" >40</text>
<text x="340.30" y="1149.50" font-size="22.47" fill="#000" font-weight="bold" text-anchor="middle" textLength="23.36" lengthAdjust="spacingAndGlyphs" >60</text>
<text x="417.70" y="1149.50" font-size="22.47" fill="#000" font-weight="bold" text-anchor="middle" textLength="23.36" lengthAdjust="spacingAndGlyphs" >80</text>
<text x="495.10" y="1149.50" font-size="22.47" fill="#000" font-weight="bold" text-anchor="middle" textLength="35.04" lengthAdjust="spacingAndGlyphs" >100</text>
<text x="194.40" y="1173.70" font-size="31.50" fill="#000" font-weight="bold" textLength="195.20" lengthAdjust="spacingAndGlyphs" >Cycle number</text>
<text x="43.40" y="1167.50" font-size="31.50" fill="#000" font-weight="bold" textLength="240.00" lengthAdjust="spacingAndGlyphs" transform="rotate(-90 43.40 1167.50)" >Specific capacity</text>
<text x="42.90" y="918.50" font-size="21.80" fill="#000" transform="rotate(-90 42.90 918.50)" >(</text>
<text x="43.40" y="911.10" font-size="30.50" fill="#000" font-weight="bold" textLength="90.70" lengthAdjust="spacingAndGlyphs" transform="rotate(-90 43.40 911.10)" >mAh g</text>
<text x="26.25" y="818.00" font-size="17.00" fill="#000" font-weight="bold" transform="rotate(-90 26.25 818.00)" >-1</text>
<text x="42.90" y="802.90" font-size="21.40" fill="#000" transform="rotate(-90 42.90 802.90)" >)</text>
<text x="435.90" y="877.60" font-size="48.00" fill="#000" font-weight="bold" textLength="59.90" lengthAdjust="spacingAndGlyphs" >(e)</text>
<text x="108.80" y="959.00" font-size="16.76" fill="#e41e26" font-weight="bold" textLength="39.10" lengthAdjust="spacingAndGlyphs" >0.1C</text>
<text x="148.80" y="959.00" font-size="16.76" fill="#e41e26" font-weight="bold" textLength="37.20" lengthAdjust="spacingAndGlyphs" >0.5C</text>
<text x="208.40" y="959.00" font-size="16.76" fill="#e41e26" font-weight="bold" textLength="21.50" lengthAdjust="spacingAndGlyphs" >1C</text>
<text x="290.00" y="957.50" font-size="16.76" fill="#e41e26" font-weight="bold" textLength="25.00" lengthAdjust="spacingAndGlyphs" >2C</text>
<text x="396.90" y="956.90" font-size="16.20" fill="#e41e26" font-weight="bold" textLength="37.40" lengthAdjust="spacingAndGlyphs" >0.5C</text>
<text x="146.90" y="890.70" font-size="15.50" fill="#000" textLength="39.00" lengthAdjust="spacingAndGlyphs" stroke="#000" stroke-width="0.55">1004</text>
<line x1="160.50" y1="893.20" x2="151.84" y2="906.22" stroke="#000" stroke-width="1.2" />
<polygon points="148.80,910.80 150.32,904.00 154.48,906.77" fill="#000"/>
<text x="149.80" y="1032.70" font-size="17.04" fill="#000" textLength="28.30" lengthAdjust="spacingAndGlyphs" stroke="#000" stroke-width="0.55">581</text>
<line x1="172.20" y1="1018.60" x2="182.15" y2="1007.92" stroke="#000" stroke-width="1.2" />
<polygon points="185.90,1003.90 183.30,1010.36 179.64,1006.95" fill="#000"/>
<text x="210.30" y="1032.70" font-size="17.04" fill="#000" textLength="30.30" lengthAdjust="spacingAndGlyphs" stroke="#000" stroke-width="0.55">265</text>
<line x1="241.60" y1="1034.20" x2="255.82" y2="1053.29" stroke="#000" stroke-width="1.2" />
<polygon points="259.10,1057.70 253.21,1053.98 257.22,1050.99" fill="#000"/>
<text x="300.20" y="1092.20" font-size="15.50" fill="#000" textLength="18.50" lengthAdjust="spacingAndGlyphs" stroke="#000" stroke-width="0.55">10</text>
<line x1="319.70" y1="1089.90" x2="335.74" y2="1103.02" stroke="#000" stroke-width="1.2" />
<polygon points="340.00,1106.50 333.39,1104.32 336.55,1100.45" fill="#000"/>
<text x="443.40" y="1012.50" font-size="16.20" fill="#000" textLength="29.70" lengthAdjust="spacingAndGlyphs" stroke="#000" stroke-width="0.55">406</text>
<line x1="471.80" y1="1009.90" x2="487.30" y2="1025.32" stroke="#000" stroke-width="1.2" />
<polygon points="491.20,1029.20 484.83,1026.39 488.36,1022.84" fill="#000"/>
<line x1="596.50" y1="1123.45" x2="600.00" y2="1123.45" stroke="#000" stroke-width="1.5" />
<line x1="594.00" y1="1103.60" x2="600.00" y2="1103.60" stroke="#000" stroke-width="1.5" />
<line x1="596.50" y1="1083.75" x2="600.00" y2="1083.75" stroke="#000" stroke-width="1.5" />
<line x1="594.00" y1="1063.90" x2="600.00" y2="1063.90" stroke="#000" stroke-width="1.5" />
<line x1="596.50" y1="1044.05" x2="600.00" y2="1044.05" stroke="#000" stroke-width="1.5" />
<line x1="594.00" y1="1024.20" x2="600.00" y2="1024.20" stroke="#000" stroke-width="1.5" />
<line x1="596.50" y1="1004.35" x2="600.00" y2="1004.35" stroke="#000" stroke-width="1.5" />
<line x1="594.00" y1="984.50" x2="600.00" y2="984.50" stroke="#000" stroke-width="1.5" />
<line x1="596.50" y1="964.65" x2="600.00" y2="964.65" stroke="#000" stroke-width="1.5" />
<line x1="594.00" y1="944.80" x2="600.00" y2="944.80" stroke="#000" stroke-width="1.5" />
<line x1="596.50" y1="924.95" x2="600.00" y2="924.95" stroke="#000" stroke-width="1.5" />
<line x1="594.00" y1="905.10" x2="600.00" y2="905.10" stroke="#000" stroke-width="1.5" />
<line x1="596.50" y1="885.25" x2="600.00" y2="885.25" stroke="#000" stroke-width="1.5" />
<line x1="594.00" y1="865.40" x2="600.00" y2="865.40" stroke="#000" stroke-width="1.5" />
<line x1="596.50" y1="845.55" x2="600.00" y2="845.55" stroke="#000" stroke-width="1.5" />
<line x1="628.00" y1="1126.50" x2="628.00" y2="1132.50" stroke="#000" stroke-width="1.5" />
<line x1="670.54" y1="1126.50" x2="670.54" y2="1130.50" stroke="#000" stroke-width="1.5" />
<line x1="713.08" y1="1126.50" x2="713.08" y2="1132.50" stroke="#000" stroke-width="1.5" />
<line x1="755.62" y1="1126.50" x2="755.62" y2="1130.50" stroke="#000" stroke-width="1.5" />
<line x1="798.16" y1="1126.50" x2="798.16" y2="1132.50" stroke="#000" stroke-width="1.5" />
<line x1="840.70" y1="1126.50" x2="840.70" y2="1130.50" stroke="#000" stroke-width="1.5" />
<line x1="883.24" y1="1126.50" x2="883.24" y2="1132.50" stroke="#000" stroke-width="1.5" />
<line x1="925.78" y1="1126.50" x2="925.78" y2="1130.50" stroke="#000" stroke-width="1.5" />
<line x1="968.32" y1="1126.50" x2="968.32" y2="1132.50" stroke="#000" stroke-width="1.5" />
<path d="M631.90,863.10 C631.67,868.42 631.05,884.27 630.50,895.00 C629.95,905.73 629.00,919.83 628.60,927.50 C628.20,935.17 628.18,938.75 628.10,941.00" fill="none" stroke="#8a2be6" stroke-width="1.9" stroke-linejoin="round" stroke-linecap="round" />
<path d="M628.75,1035.00 C628.88,1040.83 629.08,1058.17 629.50,1070.00 C629.92,1081.83 630.96,1100.00 631.25,1106.00" fill="none" stroke="#8a2be6" stroke-width="1.9" stroke-linejoin="round" stroke-linecap="round" />
<path d="M628.10,995.00 C628.21,999.58 628.02,1009.58 628.75,1022.50 C629.48,1035.42 631.25,1061.46 632.50,1072.50 C633.75,1083.54 634.79,1085.42 636.25,1088.75 C637.71,1092.08 634.38,1091.46 641.25,1092.50 C648.12,1093.54 661.88,1093.75 677.50,1095.00 C693.12,1096.25 724.30,1098.88 735.00,1100.00 C745.70,1101.12 740.58,1101.42 741.70,1101.70" fill="none" stroke="#f28c28" stroke-width="1.9" stroke-linejoin="round" stroke-linecap="round" />
<path d="M628.75,1085.00 C629.58,1084.17 628.75,1082.08 633.75,1080.00 C638.75,1077.92 650.83,1075.21 658.75,1072.50 C666.67,1069.79 676.04,1066.88 681.25,1063.75 C686.46,1060.62 686.88,1059.58 690.00,1053.75 C693.12,1047.92 696.67,1038.12 700.00,1028.75 C703.33,1019.38 706.25,1008.96 710.00,997.50 C713.75,986.04 719.30,972.50 722.50,960.00 C725.70,947.50 726.00,937.95 729.20,922.50 C732.40,907.05 739.62,876.50 741.70,867.30" fill="none" stroke="#f28c28" stroke-width="1.9" stroke-linejoin="round" stroke-linecap="round" />
<path d="M628.10,1029.00 C628.18,1034.17 628.08,1049.67 628.60,1060.00 C629.12,1070.33 630.39,1085.17 631.25,1091.00 C632.11,1096.83 628.12,1093.71 633.75,1095.00 C639.38,1096.29 653.33,1097.60 665.00,1098.75 C676.67,1099.90 697.29,1101.38 703.75,1101.90" fill="none" stroke="#26dc26" stroke-width="1.9" stroke-linejoin="round" stroke-linecap="round" />
<path d="M628.75,1076.00 C629.58,1075.17 630.83,1072.83 633.75,1071.00 C636.67,1069.17 642.50,1067.25 646.25,1065.00 C650.00,1062.75 653.54,1061.50 656.25,1057.50 C658.96,1053.50 659.79,1048.92 662.50,1041.00 C665.21,1033.08 668.75,1023.50 672.50,1010.00 C676.25,996.50 681.80,974.58 685.00,960.00 C688.20,945.42 688.85,938.30 691.70,922.50 C694.55,906.70 700.37,874.75 702.10,865.20" fill="none" stroke="#26dc26" stroke-width="1.9" stroke-linejoin="round" stroke-linecap="round" />
<path d="M629.20,1047.50 C629.50,1052.08 629.83,1068.33 631.00,1075.00 C632.17,1081.67 628.50,1085.00 636.25,1087.50 C644.00,1090.00 661.04,1088.75 677.50,1090.00 C693.96,1091.25 715.62,1093.05 735.00,1095.00 C754.38,1096.95 783.96,1100.58 793.75,1101.70" fill="none" stroke="#e41e26" stroke-width="1.9" stroke-linejoin="round" stroke-linecap="round" />
<path d="M631.25,1085.00 C631.67,1084.58 626.04,1084.58 633.75,1082.50 C641.46,1080.42 661.59,1076.25 677.50,1072.50 C693.41,1068.75 717.82,1065.92 729.20,1060.00 C740.58,1054.08 740.25,1049.50 745.80,1037.00 C751.35,1024.50 757.28,1004.08 762.50,985.00 C767.72,965.92 772.42,942.47 777.10,922.50 C781.78,902.53 788.35,874.75 790.60,865.20" fill="none" stroke="#e41e26" stroke-width="1.9" stroke-linejoin="round" stroke-linecap="round" />
<path d="M628.10,941.00 L628.10,952.50" fill="none" stroke="#000" stroke-width="1.9" stroke-linejoin="round" stroke-linecap="round" />
<path d="M631.25,987.50 C632.71,989.58 637.50,996.25 640.00,1000.00 C642.50,1003.75 644.17,1005.83 646.25,1010.00 C648.33,1014.17 650.42,1020.21 652.50,1025.00 C654.58,1029.79 656.25,1034.17 658.75,1038.75 C661.25,1043.33 664.38,1047.50 667.50,1052.50 C670.62,1057.50 674.38,1063.96 677.50,1068.75 C680.62,1073.54 683.12,1077.29 686.25,1081.25 C689.38,1085.21 693.12,1089.79 696.25,1092.50 C699.38,1095.21 698.54,1096.35 705.00,1097.50 C711.46,1098.65 719.17,1098.90 735.00,1099.40 C750.83,1099.90 759.23,1100.05 800.00,1100.50 C840.77,1100.95 949.67,1101.83 979.60,1102.10" fill="none" stroke="#000" stroke-width="1.9" stroke-linejoin="round" stroke-linecap="round" />
<path d="M636.25,1087.50 C643.12,1086.04 661.04,1081.88 677.50,1078.75 C693.96,1075.62 716.25,1072.04 735.00,1068.75 C753.75,1065.46 777.37,1061.84 790.00,1059.00 C802.63,1056.16 803.85,1055.00 810.80,1051.70 C817.75,1048.40 826.13,1043.72 831.70,1039.20 C837.27,1034.68 840.73,1030.17 844.20,1024.60 C847.67,1019.03 850.08,1012.40 852.50,1005.80 C854.92,999.20 857.02,990.03 858.75,985.00 C860.48,979.97 860.48,977.52 862.90,975.60 C865.32,973.68 870.52,974.72 873.30,973.50 C876.08,972.28 877.52,972.63 879.60,968.30 C881.68,963.97 883.72,956.88 885.80,947.50 C887.88,938.12 890.02,925.54 892.10,912.00 C894.18,898.46 897.27,873.88 898.30,866.25" fill="none" stroke="#000" stroke-width="1.9" stroke-linejoin="round" stroke-linecap="round" />
<path d="M628.10,952.50 C628.21,953.75 628.43,955.25 628.75,960.00 C629.07,964.75 629.48,976.00 630.00,981.00 C630.52,986.00 631.27,984.17 631.90,990.00 C632.52,995.83 632.40,1004.33 633.75,1016.00 C635.10,1027.67 638.33,1050.00 640.00,1060.00 C641.67,1070.00 642.50,1072.25 643.75,1076.00 C645.00,1079.75 643.96,1081.21 647.50,1082.50 C651.04,1083.79 650.42,1082.92 665.00,1083.75 C679.58,1084.58 712.50,1085.72 735.00,1087.50 C757.50,1089.28 780.42,1092.73 800.00,1094.40 C819.58,1096.07 833.68,1096.22 852.50,1097.50 C871.32,1098.78 902.83,1101.33 912.90,1102.10" fill="none" stroke="#2222dd" stroke-width="1.9" stroke-linejoin="round" stroke-linecap="round" />
<path d="M628.75,1095.00 C630.62,1093.50 631.88,1088.00 640.00,1086.00 C648.12,1084.00 661.67,1084.67 677.50,1083.00 C693.33,1081.33 716.25,1078.45 735.00,1076.00 C753.75,1073.55 775.62,1070.10 790.00,1068.30 C804.38,1066.50 812.57,1066.58 821.25,1065.20 C829.93,1063.82 836.54,1062.95 842.10,1060.00 C847.66,1057.05 851.13,1053.05 854.60,1047.50 C858.07,1041.95 859.78,1035.38 862.90,1026.70 C866.02,1018.02 870.17,1005.13 873.30,995.40 C876.43,985.67 878.92,977.67 881.70,968.30 C884.48,958.93 887.58,949.27 890.00,939.20 C892.42,929.13 894.00,920.23 896.25,907.90 C898.50,895.57 902.29,872.32 903.50,865.20" fill="none" stroke="#2222dd" stroke-width="1.9" stroke-linejoin="round" stroke-linecap="round" />
<rect x="600.00" y="833.70" width="396.50" height="292.80" fill="none" stroke="#000" stroke-width="2"/>
<text x="589.60" y="1109.90" font-size="22.79" fill="#000" font-weight="bold" text-anchor="end" textLength="30.20" lengthAdjust="spacingAndGlyphs" >0.0</text>
<text x="589.60" y="1070.20" font-size="22.79" fill="#000" font-weight="bold" text-anchor="end" textLength="30.20" lengthAdjust="spacingAndGlyphs" >0.5</text>
<text x="589.60" y="1030.50" font-size="22.79" fill="#000" font-weight="bold" text-anchor="end" textLength="30.20" lengthAdjust="spacingAndGlyphs" >1.0</text>
<text x="589.60" y="990.80" font-size="22.79" fill="#000" font-weight="bold" text-anchor="end" textLength="30.20" lengthAdjust="spacingAndGlyphs" >1.5</text>
<text x="589.60" y="951.10" font-size="22.79" fill="#000" font-weight="bold" text-anchor="end" textLength="30.20" lengthAdjust="spacingAndGlyphs" >2.0</text>
<text x="589.60" y="911.40" font-size="22.79" fill="#000" font-weight="bold" text-anchor="end" textLength="30.20" lengthAdjust="spacingAndGlyphs" >2.5</text>
<text x="589.60" y="871.70" font-size="22.79" fill="#000" font-weight="bold" text-anchor="end" textLength="30.20" lengthAdjust="spacingAndGlyphs" >3.0</text>
<text x="628.00" y="1154.80" font-size="22.47" fill="#000" font-weight="bold" text-anchor="middle" textLength="10.80" lengthAdjust="spacingAndGlyphs" >0</text>
<text x="713.08" y="1154.80" font-size="22.47" fill="#000" font-weight="bold" text-anchor="middle" textLength="35.20" lengthAdjust="spacingAndGlyphs" >300</text>
<text x="798.16" y="1154.80" font-size="22.47" fill="#000" font-weight="bold" text-anchor="middle" textLength="35.20" lengthAdjust="spacingAndGlyphs" >600</text>
<text x="883.24" y="1154.80" font-size="22.47" fill="#000" font-weight="bold" text-anchor="middle" textLength="35.20" lengthAdjust="spacingAndGlyphs" >900</text>
<text x="968.32" y="1154.80" font-size="22.47" fill="#000" font-weight="bold" text-anchor="middle" textLength="47.60" lengthAdjust="spacingAndGlyphs" >1200</text>
<text x="546.20" y="1078.75" font-size="30.00" fill="#000" font-weight="bold" textLength="156.20" lengthAdjust="spacingAndGlyphs" transform="rotate(-90 546.20 1078.75)" >Voltage (V)</text>
<text x="607.70" y="1185.00" font-size="31.50" fill="#000" font-weight="bold" textLength="243.20" lengthAdjust="spacingAndGlyphs" >Specific capacity</text>
<text x="863.50" y="1185.00" font-size="20.70" fill="#000" >(</text>
<text x="870.20" y="1185.00" font-size="31.00" fill="#000" font-weight="bold" textLength="65.50" lengthAdjust="spacingAndGlyphs" >mAh</text>
<text x="947.00" y="1185.00" font-size="30.00" fill="#000" font-weight="bold" textLength="15.60" lengthAdjust="spacingAndGlyphs" >g</text>
<text x="965.50" y="1169.00" font-size="16.20" fill="#000" font-weight="bold" >-1</text>
<text x="981.60" y="1185.00" font-size="20.70" fill="#000" >)</text>
<text x="945.30" y="892.80" font-size="48.50" fill="#000" font-weight="bold" textLength="49.60" lengthAdjust="spacingAndGlyphs" >(f)</text>
<text x="607.00" y="851.00" font-size="15.36" fill="#8a2be6" font-weight="bold" textLength="20.00" lengthAdjust="spacingAndGlyphs" >2C</text>
<text x="639.00" y="851.00" font-size="15.36" fill="#26dc26" font-weight="bold" textLength="20.00" lengthAdjust="spacingAndGlyphs" >1C</text>
<text x="673.10" y="849.00" font-size="16.76" fill="#f28c28" font-weight="bold" textLength="99.10" lengthAdjust="spacingAndGlyphs" >0.5C@100th</text>
<text x="775.90" y="851.10" font-size="14.80" fill="#e41e26" font-weight="bold" textLength="42.10" lengthAdjust="spacingAndGlyphs" >0.5 C</text>
<text x="819.20" y="851.10" font-size="14.80" fill="#000" font-weight="bold" textLength="79.70" lengthAdjust="spacingAndGlyphs" >0.1C@1st</text>
<text x="905.90" y="851.10" font-size="14.80" fill="#2222dd" font-weight="bold" textLength="93.10" lengthAdjust="spacingAndGlyphs" >0.1C@10th</text>
<line x1="617.00" y1="853.00" x2="623.65" y2="861.64" stroke="#000" stroke-width="1.2" />
<polygon points="627.00,866.00 621.06,862.37 625.02,859.32" fill="#000"/>
<line x1="655.00" y1="850.00" x2="694.95" y2="865.06" stroke="#000" stroke-width="1.2" />
<polygon points="700.10,867.00 693.14,867.05 694.90,862.37" fill="#000"/>
<line x1="729.10" y1="855.00" x2="737.52" y2="864.82" stroke="#000" stroke-width="1.2" />
<polygon points="741.10,869.00 734.97,865.69 738.77,862.44" fill="#000"/>
<line x1="798.10" y1="851.10" x2="792.74" y2="859.99" stroke="#000" stroke-width="1.2" />
<polygon points="789.90,864.70 791.12,857.84 795.40,860.42" fill="#000"/>
<line x1="879.00" y1="855.80" x2="892.16" y2="865.45" stroke="#000" stroke-width="1.2" />
<polygon points="896.60,868.70 889.88,866.87 892.84,862.84" fill="#000"/>
<line x1="921.20" y1="851.60" x2="907.95" y2="861.84" stroke="#000" stroke-width="1.2" />
<polygon points="903.60,865.20 907.21,859.25 910.27,863.20" fill="#000"/>
<text x="604.00" y="1123.00" font-size="15.36" fill="#8a2be6" font-weight="bold" textLength="21.00" lengthAdjust="spacingAndGlyphs" >2C</text>
<text x="648.00" y="1123.00" font-size="15.36" fill="#26dc26" font-weight="bold" textLength="20.00" lengthAdjust="spacingAndGlyphs" >1C</text>
<text x="680.10" y="1122.00" font-size="16.76" fill="#f28c28" font-weight="bold" textLength="98.10" lengthAdjust="spacingAndGlyphs" >0.5C@100th</text>
<text x="782.20" y="1121.60" font-size="15.78" fill="#e41e26" font-weight="bold" textLength="39.40" lengthAdjust="spacingAndGlyphs" >0.5 C</text>
<text x="822.70" y="1121.60" font-size="15.78" fill="#2222dd" font-weight="bold" textLength="87.60" lengthAdjust="spacingAndGlyphs" >0.1C@10th</text>
<text x="912.50" y="1121.60" font-size="15.78" fill="#000" font-weight="bold" textLength="78.60" lengthAdjust="spacingAndGlyphs" >0.1C@1st</text>
<line x1="624.00" y1="1117.00" x2="626.54" y2="1111.92" stroke="#000" stroke-width="1.2" />
<polygon points="629.00,1107.00 628.33,1113.93 623.86,1111.70" fill="#000"/>
<line x1="667.10" y1="1112.00" x2="685.99" y2="1104.44" stroke="#000" stroke-width="1.2" />
<polygon points="691.10,1102.40 685.99,1107.14 684.14,1102.49" fill="#000"/>
<line x1="723.10" y1="1112.00" x2="735.24" y2="1105.57" stroke="#000" stroke-width="1.2" />
<polygon points="740.10,1103.00 735.53,1108.25 733.19,1103.83" fill="#000"/>
<line x1="795.20" y1="1111.00" x2="794.13" y2="1108.15" stroke="#000" stroke-width="1.2" />
<polygon points="792.20,1103.00 796.82,1108.21 792.14,1109.96" fill="#000"/>
<line x1="860.90" y1="1108.00" x2="893.57" y2="1102.68" stroke="#000" stroke-width="1.2" />
<polygon points="899.00,1101.80 892.99,1105.31 892.18,1100.38" fill="#000"/>
<line x1="957.40" y1="1109.20" x2="966.82" y2="1105.85" stroke="#000" stroke-width="1.2" />
<polygon points="972.00,1104.00 966.72,1108.54 965.04,1103.83" fill="#000"/>
</svg></body></html>
